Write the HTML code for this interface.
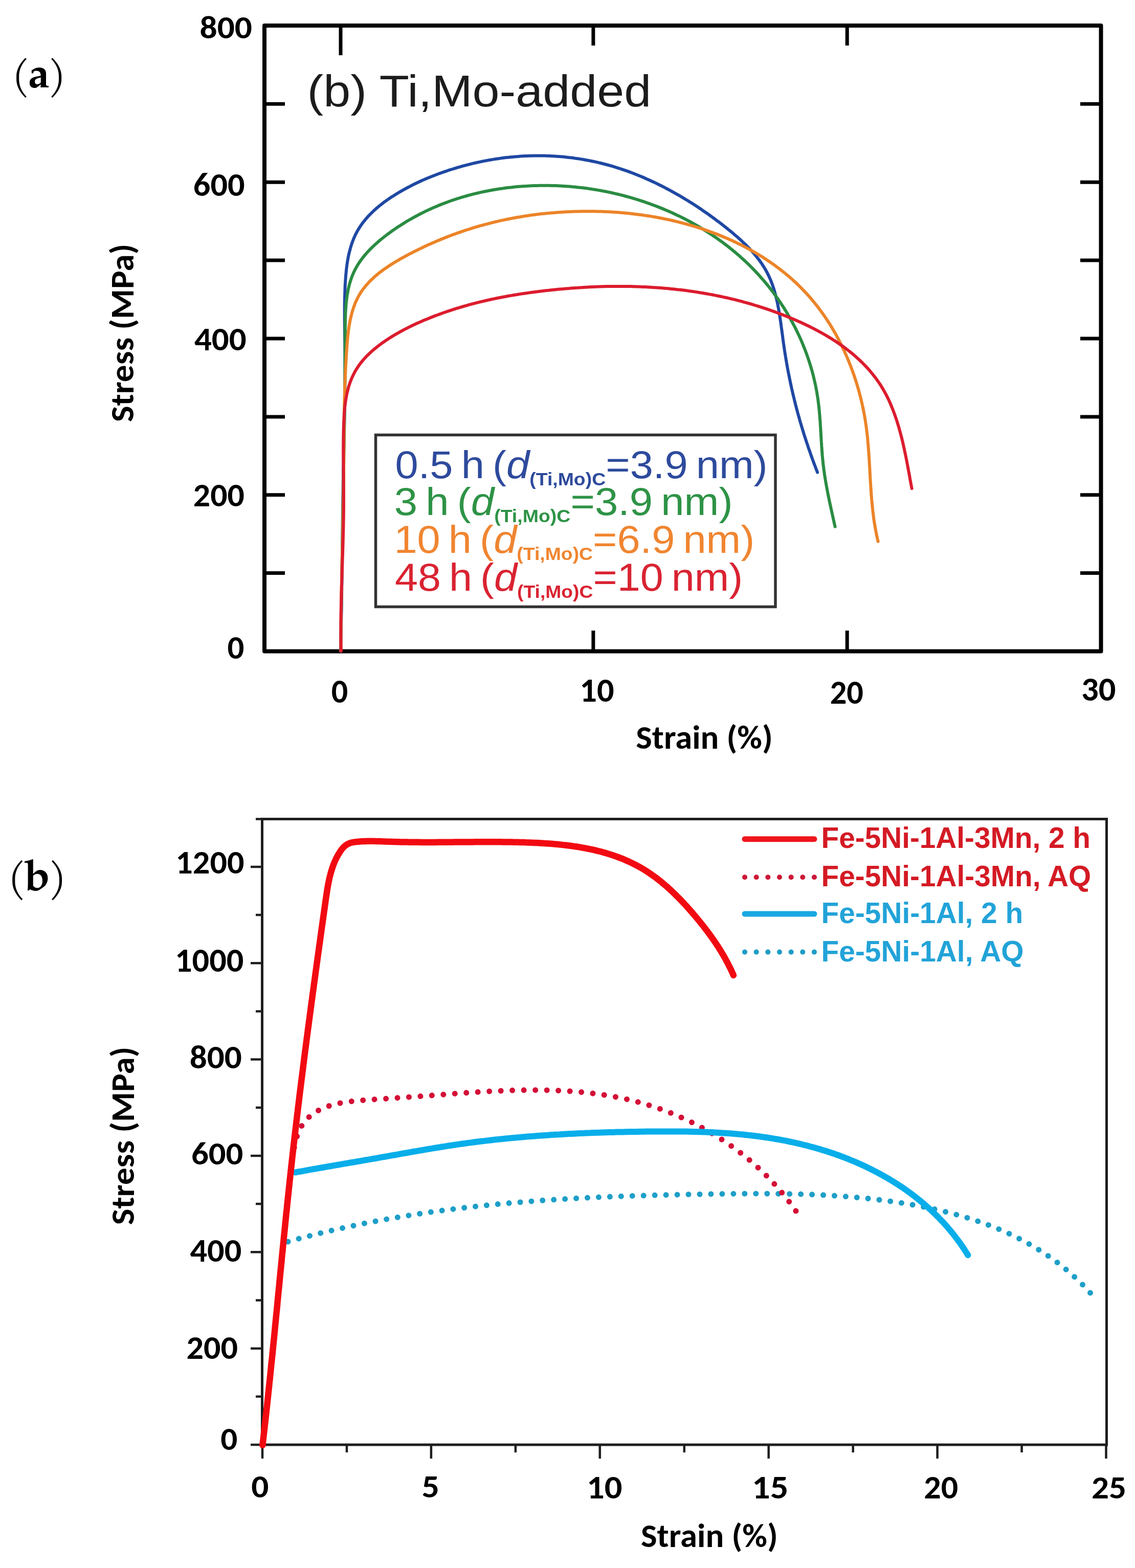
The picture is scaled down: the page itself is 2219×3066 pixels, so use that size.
<!DOCTYPE html>
<html><head><meta charset="utf-8"><title>Stress-strain curves</title>
<style>html,body{margin:0;padding:0;background:#fff;}svg{display:block;}</style></head>
<body><svg width="2219" height="3066" viewBox="0 0 2219 3066">
<rect x="0" y="0" width="2219" height="3066" fill="#fff"/>
<text x="22.3" y="171.9" font-family="'TeX Gyre Pagella', 'Palatino Linotype', Palatino, 'Liberation Serif', serif" font-weight="normal" font-style="normal" font-size="79.29" fill="#000" textLength="36.3" lengthAdjust="spacingAndGlyphs" style="font-size-adjust:cap-height 0.692">(</text>
<text x="54.5" y="170.7" font-family="'TeX Gyre Pagella', 'Palatino Linotype', Palatino, 'Liberation Serif', serif" font-weight="bold" font-style="normal" font-size="82.24" fill="#000" textLength="42.3" lengthAdjust="spacingAndGlyphs" style="font-size-adjust:0.469">a</text>
<text x="93.5" y="171.9" font-family="'TeX Gyre Pagella', 'Palatino Linotype', Palatino, 'Liberation Serif', serif" font-weight="normal" font-style="normal" font-size="79.29" fill="#000" textLength="36.7" lengthAdjust="spacingAndGlyphs" style="font-size-adjust:cap-height 0.692">)</text>
<text x="14.2" y="1740.8" font-family="'TeX Gyre Pagella', 'Palatino Linotype', Palatino, 'Liberation Serif', serif" font-weight="normal" font-style="normal" font-size="79.59" fill="#000" textLength="36.7" lengthAdjust="spacingAndGlyphs" style="font-size-adjust:cap-height 0.692">(</text>
<text x="47.3" y="1741.2" font-family="'TeX Gyre Pagella', 'Palatino Linotype', Palatino, 'Liberation Serif', serif" font-weight="bold" font-style="normal" font-size="84.86" fill="#000" textLength="50.8" lengthAdjust="spacingAndGlyphs" style="font-size-adjust:0.469">b</text>
<text x="94.5" y="1740.8" font-family="'TeX Gyre Pagella', 'Palatino Linotype', Palatino, 'Liberation Serif', serif" font-weight="normal" font-style="normal" font-size="79.59" fill="#000" textLength="36.5" lengthAdjust="spacingAndGlyphs" style="font-size-adjust:cap-height 0.692">)</text>
<rect x="517.0" y="50.0" width="1635.5" height="1223.5" fill="none" stroke="#000" stroke-width="8" stroke-linejoin="round"/>
<path d="M517.0,1120.6H557 M2152.5,1120.6H2112 M517.0,967.7H557 M2152.5,967.7H2112 M517.0,814.9H557 M2152.5,814.9H2112 M517.0,662.0H557 M2152.5,662.0H2112 M517.0,509.1H557 M2152.5,509.1H2112 M517.0,356.2H557 M2152.5,356.2H2112 M517.0,203.3H557 M2152.5,203.3H2112 M666,50.0V108 M1159.9,50.0V89 M1656.2,50.0V89 M1159.9,1273.5V1233 M1656.2,1273.5V1233" stroke="#000" stroke-width="7" fill="none"/>
<text x="390.5" y="75.1" font-family="Carlito, 'Liberation Sans', sans-serif" font-weight="bold" font-style="normal" font-size="62.86" fill="#000" textLength="102.4" lengthAdjust="spacingAndGlyphs" style="font-size-adjust:cap-height 0.6484">800</text>
<text x="377.8" y="383.4" font-family="Carlito, 'Liberation Sans', sans-serif" font-weight="bold" font-style="normal" font-size="64.35" fill="#000" textLength="100.8" lengthAdjust="spacingAndGlyphs" style="font-size-adjust:cap-height 0.6484">600</text>
<text x="379.9" y="684.9" font-family="Carlito, 'Liberation Sans', sans-serif" font-weight="bold" font-style="normal" font-size="65.07" fill="#000" textLength="101.9" lengthAdjust="spacingAndGlyphs" style="font-size-adjust:cap-height 0.6484">400</text>
<text x="377.8" y="990.2" font-family="Carlito, 'Liberation Sans', sans-serif" font-weight="bold" font-style="normal" font-size="65.07" fill="#000" textLength="100.0" lengthAdjust="spacingAndGlyphs" style="font-size-adjust:cap-height 0.6484">200</text>
<text x="444.5" y="1288.4" font-family="Carlito, 'Liberation Sans', sans-serif" font-weight="bold" font-style="normal" font-size="64.18" fill="#000" textLength="32.9" lengthAdjust="spacingAndGlyphs" style="font-size-adjust:cap-height 0.6484">0</text>
<text x="647.7" y="1374.4" font-family="Carlito, 'Liberation Sans', sans-serif" font-weight="bold" font-style="normal" font-size="65.97" fill="#000" textLength="32.5" lengthAdjust="spacingAndGlyphs" style="font-size-adjust:cap-height 0.6484">0</text>
<text x="1133.3" y="1371.9" font-family="Carlito, 'Liberation Sans', sans-serif" font-weight="bold" font-style="normal" font-size="67.54" fill="#000" textLength="67.4" lengthAdjust="spacingAndGlyphs" style="font-size-adjust:cap-height 0.6484">10</text>
<text x="1622.7" y="1376.0" font-family="Carlito, 'Liberation Sans', sans-serif" font-weight="bold" font-style="normal" font-size="67.12" fill="#000" textLength="65.3" lengthAdjust="spacingAndGlyphs" style="font-size-adjust:cap-height 0.6484">20</text>
<text x="2114.1" y="1370.2" font-family="Carlito, 'Liberation Sans', sans-serif" font-weight="bold" font-style="normal" font-size="65.82" fill="#000" textLength="67.5" lengthAdjust="spacingAndGlyphs" style="font-size-adjust:cap-height 0.6484">30</text>
<text x="1243.3" y="1464.0" font-family="Carlito, 'Liberation Sans', sans-serif" font-weight="bold" font-style="normal" font-size="64.62" fill="#000" textLength="267.5" lengthAdjust="spacingAndGlyphs" style="font-size-adjust:cap-height 0.6484">Strain (%)</text>
<text transform="translate(261.2 825.3) rotate(-90)" x="0" y="0" font-family="Carlito, 'Liberation Sans', sans-serif" font-weight="bold" font-size="64.62" fill="#000" textLength="348.8" lengthAdjust="spacingAndGlyphs" style="font-size-adjust:cap-height 0.6484">Stress (MPa)</text>
<text x="600.6" y="207.8" font-family="'Liberation Sans', Arial, Helvetica, sans-serif" font-weight="normal" font-style="normal" font-size="88.00" fill="#1c1c1c" textLength="672.7" lengthAdjust="spacingAndGlyphs">(b) Ti,Mo-added</text>
<path d="M665.7,1272.8 L665.8,1268.8 L665.9,1264.8 L666.0,1260.9 L666.1,1256.9 L666.2,1252.9 L666.3,1248.9 L666.4,1244.9 L666.5,1240.9 L666.6,1236.9 L666.7,1232.9 L666.8,1228.9 L666.9,1224.9 L667.0,1220.9 L667.1,1216.9 L667.2,1212.9 L667.2,1208.9 L667.3,1204.9 L667.4,1200.9 L667.5,1196.9 L667.6,1192.9 L667.6,1188.9 L667.7,1184.9 L667.8,1180.8 L667.8,1176.8 L667.9,1172.8 L668.0,1168.8 L668.0,1164.8 L668.1,1160.8 L668.1,1156.8 L668.2,1152.7 L668.2,1148.7 L668.3,1144.7 L668.4,1140.7 L668.4,1136.7 L668.5,1132.6 L668.5,1128.6 L668.6,1124.6 L668.6,1120.6 L668.7,1116.6 L668.7,1112.5 L668.8,1108.5 L668.8,1104.5 L668.8,1100.5 L668.9,1096.4 L668.9,1092.4 L669.0,1088.4 L669.0,1084.4 L669.1,1080.3 L669.1,1076.3 L669.2,1072.3 L669.2,1068.3 L669.2,1064.3 L669.3,1060.2 L669.3,1056.2 L669.4,1052.2 L669.4,1048.2 L669.5,1044.1 L669.5,1040.1 L669.6,1036.1 L669.6,1032.1 L669.7,1028.0 L669.7,1024.0 L669.7,1020.0 L669.8,1016.0 L669.8,1011.9 L669.9,1007.9 L669.9,1003.9 L670.0,999.9 L670.1,995.9 L670.1,991.9 L670.2,987.8 L670.2,983.8 L670.3,979.8 L670.3,975.8 L670.4,971.8 L670.5,967.8 L670.5,963.7 L670.6,959.7 L670.7,955.7 L670.7,951.7 L670.8,947.7 L670.9,943.7 L670.9,939.7 L671.0,935.7 L671.1,931.7 L671.2,927.7 L671.2,923.7 L671.3,919.7 L671.4,915.7 L671.5,911.7 L671.6,907.7 L671.7,903.7 L671.7,899.7 L671.8,895.7 L671.9,891.7 L672.0,887.7 L672.1,883.7 L672.2,879.7 L672.2,875.7 L672.3,871.7 L672.4,867.7 L672.5,863.7 L672.6,859.7 L672.7,855.7 L672.7,851.7 L672.8,847.7 L672.9,843.7 L673.0,839.7 L673.1,835.7 L673.2,831.7 L673.2,827.7 L673.3,823.7 L673.4,819.7 L673.5,815.7 L673.5,811.7 L673.6,807.7 L673.7,803.7 L673.7,799.7 L673.8,795.7 L673.9,791.7 L673.9,787.7 L674.0,783.7 L674.0,779.7 L674.1,775.7 L674.1,771.7 L674.2,767.7 L674.2,763.7 L674.3,759.7 L674.3,755.7 L674.3,751.7 L674.4,747.7 L674.4,743.6 L674.4,739.6 L674.4,735.6 L674.5,731.6 L674.5,727.6 L674.5,723.6 L674.5,719.6 L674.5,715.5 L674.5,711.5 L674.5,707.5 L674.5,703.5 L674.5,699.4 L674.5,695.4 L674.4,691.4 L674.4,687.4 L674.4,683.3 L674.3,679.3 L674.3,675.3 L674.2,671.2 L674.2,667.2 L674.1,663.1 L674.1,659.1 L674.0,655.0 L674.0,651.0 L673.9,647.0 L673.9,642.9 L673.8,638.9 L673.8,634.8 L673.8,630.7 L673.7,626.7 L673.7,622.6 L673.7,618.6 L673.7,614.5 L673.7,610.5 L673.7,606.4 L673.7,602.3 L673.7,598.3 L673.8,594.2 L673.8,590.1 L673.9,586.1 L674.0,582.0 L674.1,577.9 L674.2,573.8 L674.3,569.8 L674.5,565.7 L674.6,561.6 L674.8,557.5 L675.0,553.4 L675.3,549.4 L675.6,545.3 L675.9,541.2 L676.2,537.2 L676.6,533.1 L677.0,529.1 L677.4,525.1 L677.9,521.1 L678.4,517.1 L679.0,513.1 L679.7,509.2 L680.4,505.3 L681.1,501.4 L681.9,497.5 L682.8,493.7 L683.8,489.9 L684.8,486.2 L685.9,482.4 L687.0,478.7 L688.3,475.1 L689.6,471.5 L691.0,467.9 L692.4,464.4 L694.0,461.0 L695.6,457.5 L697.4,454.2 L699.2,450.9 L701.2,447.6 L703.2,444.4 L705.3,441.2 L707.5,438.1 L709.7,435.1 L712.1,432.1 L714.5,429.1 L717.0,426.2 L719.5,423.3 L722.2,420.5 L724.9,417.8 L727.7,415.0 L730.5,412.3 L733.4,409.7 L736.3,407.1 L739.3,404.6 L742.4,402.0 L745.5,399.6 L748.6,397.1 L751.8,394.7 L755.1,392.4 L758.4,390.1 L761.7,387.8 L765.0,385.6 L768.4,383.4 L771.9,381.2 L775.3,379.1 L778.8,377.0 L782.3,374.9 L785.8,372.9 L789.4,370.9 L793.0,368.9 L796.5,367.0 L800.2,365.1 L803.8,363.2 L807.4,361.3 L811.1,359.5 L814.8,357.8 L818.5,356.0 L822.2,354.3 L825.9,352.6 L829.7,351.0 L833.5,349.3 L837.2,347.8 L841.0,346.2 L844.8,344.7 L848.6,343.2 L852.5,341.7 L856.3,340.2 L860.1,338.8 L864.0,337.5 L867.9,336.1 L871.7,334.8 L875.6,333.5 L879.5,332.2 L883.4,331.0 L887.3,329.8 L891.2,328.6 L895.1,327.4 L899.0,326.3 L902.9,325.2 L906.8,324.1 L910.7,323.1 L914.7,322.1 L918.6,321.1 L922.5,320.1 L926.4,319.2 L930.4,318.3 L934.3,317.4 L938.3,316.6 L942.2,315.7 L946.1,314.9 L950.1,314.2 L954.0,313.4 L958.0,312.7 L961.9,312.1 L965.9,311.4 L969.9,310.8 L973.8,310.2 L977.8,309.6 L981.7,309.1 L985.7,308.6 L989.7,308.1 L993.6,307.7 L997.6,307.3 L1001.5,306.9 L1005.5,306.5 L1009.5,306.2 L1013.4,305.9 L1017.4,305.6 L1021.4,305.3 L1025.3,305.1 L1029.3,304.9 L1033.3,304.8 L1037.2,304.7 L1041.2,304.6 L1045.1,304.5 L1049.1,304.4 L1053.1,304.4 L1057.0,304.5 L1061.0,304.5 L1064.9,304.6 L1068.9,304.7 L1072.8,304.8 L1076.8,305.0 L1080.7,305.2 L1084.7,305.4 L1088.6,305.7 L1092.6,306.0 L1096.5,306.3 L1100.4,306.6 L1104.4,307.0 L1108.3,307.4 L1112.2,307.9 L1116.2,308.3 L1120.1,308.8 L1124.0,309.4 L1127.9,309.9 L1131.8,310.5 L1135.7,311.1 L1139.6,311.8 L1143.5,312.5 L1147.4,313.2 L1151.3,313.9 L1155.2,314.7 L1159.1,315.5 L1163.0,316.3 L1166.9,317.2 L1170.7,318.1 L1174.6,319.0 L1178.5,320.0 L1182.3,321.0 L1186.2,322.0 L1190.0,323.0 L1193.9,324.1 L1197.7,325.2 L1201.5,326.4 L1205.3,327.6 L1209.2,328.8 L1213.0,330.0 L1216.8,331.3 L1220.6,332.6 L1224.4,333.9 L1228.1,335.2 L1231.9,336.6 L1235.7,338.0 L1239.4,339.5 L1243.2,341.0 L1246.9,342.5 L1250.7,344.0 L1254.4,345.5 L1258.1,347.1 L1261.8,348.7 L1265.5,350.4 L1269.2,352.0 L1272.9,353.7 L1276.6,355.4 L1280.3,357.1 L1283.9,358.9 L1287.6,360.7 L1291.2,362.5 L1294.9,364.3 L1298.5,366.2 L1302.1,368.1 L1305.7,370.0 L1309.3,371.9 L1312.9,373.8 L1316.4,375.8 L1320.0,377.8 L1323.5,379.8 L1327.1,381.8 L1330.6,383.9 L1334.1,386.0 L1337.6,388.1 L1341.1,390.2 L1344.6,392.3 L1348.0,394.5 L1351.5,396.6 L1354.9,398.8 L1358.4,401.0 L1361.8,403.3 L1365.2,405.5 L1368.5,407.8 L1371.9,410.1 L1375.3,412.4 L1378.6,414.7 L1382.0,417.0 L1385.3,419.3 L1388.6,421.7 L1391.9,424.1 L1395.1,426.5 L1398.4,428.9 L1401.6,431.3 L1404.9,433.7 L1408.1,436.2 L1411.3,438.7 L1414.5,441.1 L1417.6,443.6 L1420.8,446.1 L1423.9,448.7 L1427.0,451.2 L1430.1,453.7 L1433.2,456.3 L1436.2,458.9 L1439.3,461.5 L1442.3,464.1 L1445.2,466.7 L1448.2,469.4 L1451.1,472.1 L1453.9,474.8 L1456.7,477.5 L1459.5,480.2 L1462.3,483.0 L1465.0,485.8 L1467.6,488.7 L1470.3,491.5 L1472.8,494.4 L1475.3,497.4 L1477.8,500.3 L1480.2,503.3 L1482.6,506.3 L1484.9,509.4 L1487.1,512.5 L1489.3,515.6 L1491.4,518.8 L1493.4,522.0 L1495.4,525.3 L1497.3,528.6 L1499.2,531.9 L1500.9,535.3 L1502.6,538.7 L1504.2,542.2 L1505.8,545.7 L1507.3,549.3 L1508.7,552.9 L1510.0,556.5 L1511.3,560.2 L1512.5,563.9 L1513.7,567.6 L1514.8,571.4 L1515.8,575.2 L1516.8,579.1 L1517.8,582.9 L1518.7,586.8 L1519.5,590.7 L1520.4,594.7 L1521.1,598.6 L1521.9,602.6 L1522.6,606.6 L1523.3,610.7 L1524.0,614.7 L1524.6,618.7 L1525.2,622.8 L1525.8,626.9 L1526.4,630.9 L1527.0,635.0 L1527.5,639.1 L1528.1,643.2 L1528.6,647.3 L1529.2,651.4 L1529.7,655.5 L1530.3,659.6 L1530.8,663.7 L1531.4,667.8 L1531.9,671.9 L1532.5,675.9 L1533.1,680.0 L1533.7,684.0 L1534.3,688.1 L1534.9,692.1 L1535.6,696.1 L1536.2,700.1 L1536.9,704.1 L1537.6,708.1 L1538.3,712.1 L1539.0,716.1 L1539.7,720.0 L1540.5,724.0 L1541.2,728.0 L1542.0,731.9 L1542.8,735.8 L1543.6,739.8 L1544.4,743.7 L1545.2,747.6 L1546.0,751.5 L1546.9,755.4 L1547.7,759.3 L1548.6,763.2 L1549.5,767.1 L1550.4,771.0 L1551.3,774.8 L1552.3,778.7 L1553.2,782.6 L1554.2,786.4 L1555.1,790.3 L1556.1,794.1 L1557.1,798.0 L1558.1,801.8 L1559.2,805.7 L1560.2,809.5 L1561.3,813.3 L1562.4,817.1 L1563.4,821.0 L1564.5,824.8 L1565.7,828.6 L1566.8,832.4 L1567.9,836.2 L1569.1,840.0 L1570.3,843.8 L1571.4,847.6 L1572.6,851.4 L1573.9,855.2 L1575.1,859.0 L1576.3,862.8 L1577.6,866.6 L1578.9,870.4 L1580.1,874.2 L1581.4,878.0 L1582.8,881.8 L1584.1,885.6 L1585.4,889.4 L1586.8,893.2 L1588.1,897.0 L1589.5,900.8 L1590.9,904.6 L1592.3,908.4 L1593.8,912.2 L1595.2,916.0 L1596.7,919.8 L1598.1,923.6" fill="none" stroke="#1f48a3" stroke-width="6" stroke-linejoin="round" stroke-linecap="round"/>
<path d="M666.1,1272.8 L666.1,1268.8 L666.2,1264.8 L666.2,1260.8 L666.3,1256.9 L666.4,1252.9 L666.4,1248.9 L666.5,1244.9 L666.5,1240.9 L666.6,1237.0 L666.6,1233.0 L666.7,1229.0 L666.8,1225.0 L666.8,1221.0 L666.9,1217.0 L666.9,1213.0 L667.0,1209.0 L667.1,1205.0 L667.1,1201.0 L667.2,1197.0 L667.2,1193.0 L667.3,1189.0 L667.4,1185.0 L667.4,1181.0 L667.5,1177.0 L667.5,1173.0 L667.6,1168.9 L667.7,1164.9 L667.7,1160.9 L667.8,1156.9 L667.9,1152.9 L667.9,1148.9 L668.0,1144.8 L668.1,1140.8 L668.1,1136.8 L668.2,1132.8 L668.3,1128.8 L668.3,1124.7 L668.4,1120.7 L668.4,1116.7 L668.5,1112.7 L668.6,1108.7 L668.6,1104.6 L668.7,1100.6 L668.8,1096.6 L668.8,1092.6 L668.9,1088.5 L669.0,1084.5 L669.1,1080.5 L669.1,1076.5 L669.2,1072.4 L669.3,1068.4 L669.3,1064.4 L669.4,1060.4 L669.5,1056.3 L669.5,1052.3 L669.6,1048.3 L669.7,1044.3 L669.7,1040.2 L669.8,1036.2 L669.9,1032.2 L669.9,1028.2 L670.0,1024.1 L670.1,1020.1 L670.2,1016.1 L670.2,1012.1 L670.3,1008.1 L670.4,1004.1 L670.4,1000.0 L670.5,996.0 L670.6,992.0 L670.6,988.0 L670.7,984.0 L670.8,980.0 L670.9,976.0 L670.9,972.0 L671.0,967.9 L671.1,963.9 L671.1,959.9 L671.2,955.9 L671.3,951.9 L671.3,947.9 L671.4,943.9 L671.5,939.9 L671.5,935.9 L671.6,932.0 L671.7,928.0 L671.8,924.0 L671.8,920.0 L671.9,916.0 L672.0,912.0 L672.0,908.0 L672.1,904.0 L672.2,900.0 L672.2,896.1 L672.3,892.1 L672.4,888.1 L672.4,884.1 L672.5,880.1 L672.6,876.1 L672.6,872.1 L672.7,868.2 L672.8,864.2 L672.8,860.2 L672.9,856.2 L672.9,852.2 L673.0,848.2 L673.1,844.3 L673.1,840.3 L673.2,836.3 L673.2,832.3 L673.3,828.3 L673.4,824.3 L673.4,820.3 L673.5,816.3 L673.5,812.3 L673.6,808.3 L673.6,804.4 L673.7,800.4 L673.7,796.4 L673.8,792.4 L673.8,788.4 L673.9,784.4 L673.9,780.3 L674.0,776.3 L674.0,772.3 L674.1,768.3 L674.1,764.3 L674.2,760.3 L674.2,756.3 L674.2,752.2 L674.3,748.2 L674.3,744.2 L674.4,740.2 L674.4,736.1 L674.4,732.1 L674.5,728.1 L674.5,724.0 L674.5,720.0 L674.5,715.9 L674.6,711.9 L674.6,707.8 L674.6,703.8 L674.6,699.7 L674.7,695.7 L674.7,691.6 L674.7,687.5 L674.7,683.4 L674.7,679.4 L674.8,675.3 L674.8,671.2 L674.8,667.1 L674.8,663.0 L674.8,658.9 L674.8,654.8 L674.8,650.7 L674.8,646.6 L674.8,642.5 L674.9,638.4 L674.9,634.3 L675.0,630.2 L675.0,626.1 L675.1,622.0 L675.3,617.9 L675.4,613.8 L675.6,609.8 L675.8,605.7 L676.1,601.7 L676.4,597.7 L676.7,593.7 L677.1,589.7 L677.6,585.8 L678.1,581.8 L678.7,577.9 L679.3,574.1 L680.0,570.2 L680.7,566.4 L681.6,562.6 L682.5,558.8 L683.4,555.1 L684.5,551.4 L685.7,547.8 L686.9,544.1 L688.2,540.6 L689.6,537.0 L691.1,533.5 L692.8,530.1 L694.5,526.7 L696.3,523.3 L698.2,520.0 L700.2,516.7 L702.3,513.5 L704.5,510.3 L706.8,507.2 L709.1,504.1 L711.6,501.0 L714.1,498.0 L716.6,495.1 L719.3,492.1 L722.0,489.2 L724.8,486.4 L727.6,483.6 L730.5,480.8 L733.4,478.1 L736.4,475.4 L739.4,472.7 L742.5,470.1 L745.6,467.5 L748.8,465.0 L752.0,462.5 L755.2,460.0 L758.4,457.5 L761.7,455.1 L765.0,452.8 L768.3,450.4 L771.6,448.1 L775.0,445.8 L778.3,443.6 L781.7,441.4 L785.1,439.2 L788.5,437.1 L791.9,434.9 L795.3,432.9 L798.8,430.8 L802.3,428.8 L805.8,426.8 L809.3,424.9 L812.8,423.0 L816.3,421.1 L819.8,419.2 L823.4,417.4 L827.0,415.6 L830.5,413.9 L834.1,412.1 L837.7,410.4 L841.4,408.8 L845.0,407.1 L848.7,405.5 L852.3,404.0 L856.0,402.4 L859.7,400.9 L863.4,399.4 L867.1,398.0 L870.8,396.6 L874.5,395.2 L878.3,393.8 L882.0,392.5 L885.8,391.2 L889.5,390.0 L893.3,388.7 L897.1,387.5 L900.9,386.3 L904.7,385.2 L908.6,384.1 L912.4,383.0 L916.2,381.9 L920.1,380.9 L923.9,379.9 L927.8,378.9 L931.7,378.0 L935.5,377.1 L939.4,376.2 L943.3,375.3 L947.2,374.5 L951.1,373.7 L955.1,373.0 L959.0,372.2 L962.9,371.5 L966.9,370.8 L970.8,370.2 L974.7,369.5 L978.7,368.9 L982.7,368.4 L986.6,367.8 L990.6,367.3 L994.6,366.8 L998.6,366.4 L1002.5,365.9 L1006.5,365.5 L1010.5,365.1 L1014.5,364.8 L1018.5,364.5 L1022.5,364.2 L1026.5,363.9 L1030.6,363.7 L1034.6,363.4 L1038.6,363.3 L1042.6,363.1 L1046.6,363.0 L1050.6,362.9 L1054.7,362.8 L1058.7,362.7 L1062.7,362.7 L1066.8,362.7 L1070.8,362.7 L1074.8,362.8 L1078.8,362.9 L1082.9,363.0 L1086.9,363.1 L1090.9,363.3 L1095.0,363.5 L1099.0,363.7 L1103.0,363.9 L1107.1,364.2 L1111.1,364.5 L1115.1,364.8 L1119.1,365.2 L1123.2,365.5 L1127.2,365.9 L1131.2,366.4 L1135.2,366.8 L1139.2,367.3 L1143.2,367.8 L1147.2,368.3 L1151.2,368.9 L1155.2,369.5 L1159.2,370.1 L1163.2,370.7 L1167.2,371.4 L1171.2,372.1 L1175.2,372.8 L1179.1,373.6 L1183.1,374.3 L1187.1,375.1 L1191.0,375.9 L1195.0,376.8 L1198.9,377.7 L1202.9,378.6 L1206.8,379.5 L1210.7,380.4 L1214.6,381.4 L1218.5,382.4 L1222.4,383.5 L1226.3,384.5 L1230.2,385.6 L1234.1,386.7 L1238.0,387.8 L1241.8,389.0 L1245.7,390.2 L1249.5,391.4 L1253.4,392.6 L1257.2,393.9 L1261.0,395.2 L1264.8,396.5 L1268.6,397.8 L1272.4,399.2 L1276.2,400.6 L1280.0,402.0 L1283.7,403.4 L1287.5,404.9 L1291.2,406.4 L1294.9,407.9 L1298.6,409.4 L1302.3,411.0 L1306.0,412.6 L1309.7,414.2 L1313.3,415.8 L1317.0,417.5 L1320.6,419.2 L1324.3,420.9 L1327.9,422.6 L1331.5,424.4 L1335.0,426.2 L1338.6,428.0 L1342.2,429.9 L1345.7,431.7 L1349.2,433.6 L1352.7,435.5 L1356.2,437.5 L1359.7,439.4 L1363.2,441.4 L1366.6,443.4 L1370.0,445.5 L1373.4,447.5 L1376.8,449.6 L1380.2,451.7 L1383.6,453.9 L1386.9,456.0 L1390.3,458.2 L1393.6,460.4 L1396.9,462.7 L1400.1,464.9 L1403.4,467.2 L1406.6,469.5 L1409.9,471.8 L1413.1,474.2 L1416.2,476.6 L1419.4,479.0 L1422.6,481.4 L1425.7,483.9 L1428.8,486.3 L1431.9,488.8 L1434.9,491.4 L1438.0,493.9 L1441.0,496.5 L1444.0,499.1 L1447.0,501.7 L1449.9,504.4 L1452.9,507.0 L1455.8,509.7 L1458.7,512.4 L1461.6,515.2 L1464.4,517.9 L1467.2,520.7 L1470.0,523.5 L1472.8,526.4 L1475.6,529.2 L1478.3,532.1 L1481.0,535.0 L1483.7,538.0 L1486.3,540.9 L1489.0,543.9 L1491.6,546.9 L1494.2,549.9 L1496.7,553.0 L1499.3,556.0 L1501.8,559.1 L1504.3,562.2 L1506.7,565.4 L1509.1,568.5 L1511.6,571.7 L1513.9,574.9 L1516.3,578.1 L1518.6,581.4 L1520.9,584.6 L1523.2,587.9 L1525.4,591.2 L1527.6,594.5 L1529.8,597.9 L1532.0,601.2 L1534.1,604.6 L1536.2,608.0 L1538.3,611.4 L1540.3,614.8 L1542.4,618.3 L1544.4,621.7 L1546.3,625.2 L1548.2,628.7 L1550.1,632.2 L1552.0,635.8 L1553.9,639.3 L1555.7,642.9 L1557.4,646.5 L1559.2,650.1 L1560.9,653.7 L1562.6,657.3 L1564.2,660.9 L1565.9,664.6 L1567.5,668.2 L1569.0,671.9 L1570.5,675.6 L1572.0,679.3 L1573.5,683.1 L1574.9,686.8 L1576.3,690.5 L1577.7,694.3 L1579.0,698.1 L1580.3,701.9 L1581.6,705.7 L1582.8,709.5 L1584.0,713.3 L1585.2,717.1 L1586.3,720.9 L1587.4,724.8 L1588.5,728.7 L1589.5,732.5 L1590.5,736.4 L1591.4,740.3 L1592.3,744.2 L1593.2,748.1 L1594.1,752.0 L1594.9,755.9 L1595.6,759.9 L1596.4,763.8 L1597.1,767.8 L1597.7,771.7 L1598.4,775.7 L1599.0,779.6 L1599.5,783.6 L1600.0,787.6 L1600.5,791.6 L1601.0,795.6 L1601.4,799.6 L1601.8,803.6 L1602.1,807.6 L1602.5,811.6 L1602.8,815.6 L1603.1,819.6 L1603.4,823.6 L1603.7,827.7 L1603.9,831.7 L1604.2,835.7 L1604.4,839.7 L1604.6,843.8 L1604.9,847.8 L1605.1,851.8 L1605.3,855.8 L1605.6,859.9 L1605.8,863.9 L1606.1,867.9 L1606.3,871.9 L1606.6,875.9 L1606.9,880.0 L1607.2,884.0 L1607.5,888.0 L1607.8,892.0 L1608.2,896.0 L1608.6,900.0 L1609.0,904.0 L1609.4,908.0 L1609.9,911.9 L1610.4,915.9 L1610.9,919.9 L1611.5,923.8 L1612.0,927.8 L1612.6,931.7 L1613.3,935.7 L1613.9,939.6 L1614.6,943.6 L1615.3,947.5 L1616.0,951.4 L1616.7,955.4 L1617.5,959.3 L1618.2,963.2 L1619.0,967.2 L1619.8,971.1 L1620.6,975.0 L1621.4,978.9 L1622.2,982.8 L1623.1,986.7 L1623.9,990.7 L1624.8,994.6 L1625.6,998.5 L1626.5,1002.4 L1627.4,1006.3 L1628.2,1010.2 L1629.1,1014.2 L1630.0,1018.1 L1630.8,1022.0 L1631.7,1025.9 L1632.6,1029.8" fill="none" stroke="#2a8c42" stroke-width="6" stroke-linejoin="round" stroke-linecap="round"/>
<path d="M666.4,1273.0 L666.4,1269.0 L666.4,1264.9 L666.4,1260.9 L666.4,1256.9 L666.4,1252.9 L666.4,1248.9 L666.5,1244.9 L666.5,1240.9 L666.5,1236.9 L666.5,1232.9 L666.5,1228.9 L666.6,1224.9 L666.6,1220.9 L666.7,1216.9 L666.7,1212.9 L666.7,1208.9 L666.8,1204.8 L666.8,1200.8 L666.9,1196.8 L666.9,1192.8 L667.0,1188.8 L667.1,1184.8 L667.1,1180.8 L667.2,1176.8 L667.3,1172.8 L667.3,1168.7 L667.4,1164.7 L667.5,1160.7 L667.5,1156.7 L667.6,1152.7 L667.7,1148.7 L667.8,1144.7 L667.9,1140.7 L668.0,1136.6 L668.0,1132.6 L668.1,1128.6 L668.2,1124.6 L668.3,1120.6 L668.4,1116.6 L668.5,1112.6 L668.6,1108.5 L668.7,1104.5 L668.7,1100.5 L668.8,1096.5 L668.9,1092.5 L669.0,1088.5 L669.1,1084.5 L669.2,1080.4 L669.3,1076.4 L669.4,1072.4 L669.5,1068.4 L669.6,1064.4 L669.7,1060.4 L669.8,1056.4 L669.9,1052.3 L669.9,1048.3 L670.0,1044.3 L670.1,1040.3 L670.2,1036.3 L670.3,1032.3 L670.4,1028.3 L670.5,1024.2 L670.5,1020.2 L670.6,1016.2 L670.7,1012.2 L670.8,1008.2 L670.9,1004.2 L670.9,1000.2 L671.0,996.2 L671.1,992.2 L671.1,988.1 L671.2,984.1 L671.3,980.1 L671.3,976.1 L671.4,972.1 L671.4,968.1 L671.5,964.1 L671.5,960.1 L671.6,956.1 L671.6,952.1 L671.7,948.1 L671.7,944.1 L671.8,940.1 L671.8,936.1 L671.8,932.0 L671.9,928.0 L671.9,924.0 L671.9,920.0 L671.9,916.0 L672.0,912.0 L672.0,908.0 L672.0,904.0 L672.1,900.0 L672.1,896.0 L672.1,892.0 L672.1,888.0 L672.2,884.0 L672.2,880.0 L672.2,876.0 L672.2,872.0 L672.3,868.0 L672.3,864.0 L672.3,860.0 L672.4,856.0 L672.4,851.9 L672.4,847.9 L672.5,843.9 L672.5,839.9 L672.6,835.9 L672.6,831.9 L672.7,827.9 L672.7,823.9 L672.8,819.9 L672.8,815.9 L672.9,811.9 L673.0,807.8 L673.0,803.8 L673.1,799.8 L673.2,795.8 L673.3,791.8 L673.4,787.8 L673.4,783.7 L673.5,779.7 L673.6,775.7 L673.8,771.7 L673.9,767.7 L674.0,763.6 L674.1,759.6 L674.2,755.6 L674.4,751.6 L674.5,747.5 L674.7,743.5 L674.8,739.5 L675.0,735.4 L675.2,731.4 L675.3,727.4 L675.5,723.3 L675.7,719.3 L675.9,715.3 L676.1,711.2 L676.4,707.2 L676.6,703.1 L676.8,699.1 L677.1,695.1 L677.3,691.0 L677.6,687.0 L677.8,682.9 L678.1,678.9 L678.4,674.8 L678.7,670.8 L679.1,666.7 L679.4,662.7 L679.8,658.7 L680.3,654.7 L680.7,650.7 L681.2,646.7 L681.8,642.7 L682.3,638.8 L683.0,634.9 L683.7,631.0 L684.4,627.1 L685.2,623.3 L686.1,619.5 L687.0,615.7 L688.0,611.9 L689.0,608.2 L690.2,604.6 L691.4,600.9 L692.7,597.4 L694.0,593.8 L695.5,590.3 L697.1,586.9 L698.7,583.5 L700.5,580.1 L702.3,576.9 L704.3,573.6 L706.3,570.4 L708.5,567.3 L710.7,564.3 L713.1,561.3 L715.5,558.3 L718.1,555.4 L720.7,552.5 L723.4,549.7 L726.2,547.0 L729.0,544.3 L731.9,541.6 L734.9,539.0 L738.0,536.4 L741.1,533.9 L744.3,531.4 L747.5,529.0 L750.8,526.6 L754.2,524.2 L757.6,521.9 L761.0,519.6 L764.5,517.4 L768.0,515.2 L771.5,513.0 L775.1,510.9 L778.7,508.8 L782.3,506.7 L785.9,504.6 L789.6,502.6 L793.3,500.6 L796.9,498.6 L800.6,496.7 L804.3,494.8 L808.0,492.9 L811.7,491.0 L815.4,489.2 L819.1,487.4 L822.8,485.6 L826.5,483.8 L830.2,482.0 L833.9,480.3 L837.6,478.6 L841.4,476.9 L845.1,475.3 L848.8,473.7 L852.5,472.0 L856.3,470.5 L860.0,468.9 L863.7,467.4 L867.5,465.9 L871.2,464.4 L875.0,462.9 L878.7,461.5 L882.5,460.0 L886.2,458.6 L890.0,457.3 L893.8,455.9 L897.5,454.6 L901.3,453.3 L905.1,452.0 L908.9,450.7 L912.7,449.5 L916.4,448.3 L920.2,447.1 L924.0,445.9 L927.8,444.7 L931.6,443.6 L935.4,442.5 L939.2,441.4 L943.1,440.4 L946.9,439.3 L950.7,438.3 L954.5,437.3 L958.3,436.3 L962.2,435.4 L966.0,434.4 L969.9,433.5 L973.7,432.6 L977.6,431.7 L981.4,430.9 L985.3,430.1 L989.1,429.3 L993.0,428.5 L996.9,427.7 L1000.7,426.9 L1004.6,426.2 L1008.5,425.5 L1012.4,424.8 L1016.3,424.2 L1020.2,423.5 L1024.1,422.9 L1028.0,422.3 L1031.9,421.7 L1035.8,421.1 L1039.7,420.6 L1043.7,420.1 L1047.6,419.6 L1051.5,419.1 L1055.5,418.6 L1059.4,418.1 L1063.3,417.7 L1067.3,417.3 L1071.3,416.9 L1075.2,416.5 L1079.2,416.2 L1083.2,415.9 L1087.1,415.5 L1091.1,415.3 L1095.1,415.0 L1099.1,414.7 L1103.1,414.5 L1107.1,414.3 L1111.1,414.1 L1115.1,413.9 L1119.1,413.7 L1123.1,413.6 L1127.1,413.5 L1131.1,413.4 L1135.2,413.3 L1139.2,413.2 L1143.2,413.2 L1147.2,413.2 L1151.3,413.2 L1155.3,413.2 L1159.3,413.2 L1163.4,413.3 L1167.4,413.4 L1171.4,413.5 L1175.5,413.6 L1179.5,413.7 L1183.5,413.9 L1187.6,414.1 L1191.6,414.3 L1195.7,414.5 L1199.7,414.7 L1203.7,415.0 L1207.8,415.3 L1211.8,415.6 L1215.8,415.9 L1219.9,416.3 L1223.9,416.7 L1227.9,417.1 L1231.9,417.5 L1236.0,417.9 L1240.0,418.4 L1244.0,418.9 L1248.0,419.4 L1252.0,419.9 L1256.0,420.5 L1260.0,421.1 L1264.0,421.7 L1268.0,422.3 L1272.0,422.9 L1276.0,423.6 L1280.0,424.3 L1284.0,425.0 L1288.0,425.7 L1291.9,426.5 L1295.9,427.3 L1299.9,428.1 L1303.8,428.9 L1307.8,429.7 L1311.7,430.6 L1315.6,431.5 L1319.6,432.4 L1323.5,433.4 L1327.4,434.3 L1331.3,435.3 L1335.2,436.4 L1339.1,437.4 L1343.0,438.5 L1346.9,439.6 L1350.8,440.7 L1354.6,441.8 L1358.5,443.0 L1362.3,444.2 L1366.2,445.4 L1370.0,446.6 L1373.8,447.9 L1377.6,449.2 L1381.4,450.5 L1385.2,451.8 L1389.0,453.2 L1392.8,454.6 L1396.5,456.0 L1400.3,457.4 L1404.0,458.9 L1407.7,460.4 L1411.4,461.9 L1415.1,463.4 L1418.8,465.0 L1422.5,466.6 L1426.1,468.2 L1429.8,469.8 L1433.4,471.5 L1437.0,473.2 L1440.6,474.9 L1444.2,476.7 L1447.8,478.4 L1451.4,480.2 L1454.9,482.1 L1458.4,483.9 L1461.9,485.8 L1465.4,487.7 L1468.9,489.6 L1472.3,491.6 L1475.8,493.6 L1479.2,495.6 L1482.6,497.6 L1486.0,499.7 L1489.4,501.8 L1492.7,503.9 L1496.0,506.1 L1499.3,508.2 L1502.6,510.4 L1505.9,512.7 L1509.1,514.9 L1512.4,517.2 L1515.6,519.5 L1518.7,521.9 L1521.9,524.2 L1525.0,526.6 L1528.2,529.1 L1531.2,531.5 L1534.3,534.0 L1537.4,536.5 L1540.4,539.0 L1543.4,541.6 L1546.4,544.2 L1549.3,546.8 L1552.2,549.5 L1555.1,552.1 L1558.0,554.8 L1560.9,557.6 L1563.7,560.3 L1566.5,563.1 L1569.2,566.0 L1572.0,568.8 L1574.7,571.7 L1577.4,574.6 L1580.0,577.5 L1582.7,580.5 L1585.3,583.5 L1587.8,586.5 L1590.4,589.6 L1592.9,592.7 L1595.4,595.8 L1597.9,598.9 L1600.3,602.1 L1602.7,605.3 L1605.1,608.5 L1607.4,611.7 L1609.7,615.0 L1612.0,618.3 L1614.3,621.6 L1616.5,624.9 L1618.7,628.3 L1620.9,631.7 L1623.0,635.1 L1625.1,638.5 L1627.2,641.9 L1629.2,645.4 L1631.3,648.9 L1633.3,652.4 L1635.2,655.9 L1637.2,659.5 L1639.1,663.1 L1640.9,666.6 L1642.8,670.3 L1644.6,673.9 L1646.4,677.5 L1648.1,681.2 L1649.9,684.8 L1651.6,688.5 L1653.2,692.2 L1654.9,695.9 L1656.5,699.7 L1658.1,703.4 L1659.6,707.2 L1661.1,710.9 L1662.6,714.7 L1664.1,718.5 L1665.5,722.3 L1666.9,726.1 L1668.3,730.0 L1669.6,733.8 L1670.9,737.7 L1672.2,741.5 L1673.4,745.4 L1674.7,749.3 L1675.8,753.1 L1677.0,757.0 L1678.1,760.9 L1679.2,764.8 L1680.3,768.7 L1681.3,772.7 L1682.3,776.6 L1683.3,780.5 L1684.2,784.4 L1685.2,788.4 L1686.0,792.3 L1686.9,796.2 L1687.7,800.2 L1688.5,804.1 L1689.2,808.1 L1690.0,812.0 L1690.7,816.0 L1691.3,819.9 L1692.0,823.9 L1692.6,827.8 L1693.1,831.8 L1693.7,835.7 L1694.2,839.7 L1694.7,843.6 L1695.1,847.6 L1695.6,851.5 L1696.0,855.4 L1696.4,859.4 L1696.7,863.3 L1697.1,867.3 L1697.4,871.2 L1697.7,875.2 L1698.0,879.1 L1698.3,883.0 L1698.6,887.0 L1698.9,890.9 L1699.1,894.9 L1699.4,898.8 L1699.6,902.8 L1699.8,906.7 L1700.0,910.7 L1700.3,914.6 L1700.5,918.6 L1700.7,922.5 L1700.9,926.5 L1701.1,930.5 L1701.3,934.4 L1701.6,938.4 L1701.8,942.4 L1702.0,946.3 L1702.3,950.3 L1702.5,954.3 L1702.8,958.2 L1703.1,962.2 L1703.4,966.2 L1703.7,970.2 L1704.0,974.2 L1704.3,978.1 L1704.7,982.1 L1705.1,986.1 L1705.5,990.1 L1705.9,994.1 L1706.3,998.1 L1706.8,1002.1 L1707.3,1006.2 L1707.8,1010.2 L1708.3,1014.2 L1708.9,1018.2 L1709.5,1022.3 L1710.2,1026.3 L1710.9,1030.3 L1711.6,1034.4 L1712.3,1038.4 L1713.1,1042.5 L1713.9,1046.5 L1714.8,1050.6 L1715.7,1054.7 L1716.7,1058.7" fill="none" stroke="#ec8428" stroke-width="6" stroke-linejoin="round" stroke-linecap="round"/>
<path d="M666.8,1273.3 L666.7,1269.2 L666.6,1265.2 L666.5,1261.1 L666.5,1257.1 L666.4,1253.0 L666.4,1248.9 L666.4,1244.9 L666.4,1240.9 L666.4,1236.8 L666.4,1232.8 L666.4,1228.7 L666.4,1224.7 L666.4,1220.7 L666.4,1216.7 L666.5,1212.6 L666.5,1208.6 L666.6,1204.6 L666.6,1200.6 L666.7,1196.5 L666.8,1192.5 L666.8,1188.5 L666.9,1184.5 L667.0,1180.5 L667.1,1176.5 L667.2,1172.5 L667.3,1168.5 L667.4,1164.5 L667.5,1160.5 L667.6,1156.5 L667.7,1152.5 L667.8,1148.5 L667.9,1144.5 L668.1,1140.5 L668.2,1136.5 L668.3,1132.5 L668.4,1128.5 L668.6,1124.5 L668.7,1120.5 L668.8,1116.5 L669.0,1112.5 L669.1,1108.6 L669.2,1104.6 L669.4,1100.6 L669.5,1096.6 L669.6,1092.6 L669.7,1088.6 L669.9,1084.6 L670.0,1080.6 L670.1,1076.6 L670.2,1072.6 L670.4,1068.7 L670.5,1064.7 L670.6,1060.7 L670.7,1056.7 L670.8,1052.7 L670.9,1048.7 L671.0,1044.7 L671.1,1040.7 L671.2,1036.7 L671.3,1032.7 L671.4,1028.7 L671.5,1024.7 L671.5,1020.7 L671.6,1016.7 L671.7,1012.7 L671.7,1008.7 L671.8,1004.7 L671.8,1000.7 L671.9,996.7 L671.9,992.7 L671.9,988.7 L671.9,984.6 L671.9,980.6 L671.9,976.6 L671.9,972.6 L671.9,968.6 L671.9,964.5 L671.9,960.5 L671.8,956.5 L671.8,952.4 L671.8,948.4 L671.7,944.4 L671.7,940.3 L671.6,936.3 L671.6,932.2 L671.6,928.2 L671.5,924.1 L671.5,920.1 L671.4,916.1 L671.4,912.0 L671.4,907.9 L671.3,903.9 L671.3,899.8 L671.3,895.8 L671.2,891.7 L671.2,887.6 L671.2,883.6 L671.2,879.5 L671.2,875.4 L671.2,871.4 L671.3,867.3 L671.3,863.2 L671.3,859.2 L671.4,855.1 L671.4,851.0 L671.5,846.9 L671.6,842.8 L671.7,838.7 L671.8,834.7 L671.9,830.6 L672.1,826.5 L672.3,822.4 L672.5,818.3 L672.7,814.3 L672.9,810.2 L673.2,806.2 L673.6,802.1 L673.9,798.1 L674.4,794.1 L674.8,790.2 L675.4,786.2 L675.9,782.3 L676.6,778.4 L677.3,774.5 L678.0,770.7 L678.9,766.9 L679.8,763.1 L680.8,759.4 L681.8,755.7 L683.0,752.1 L684.2,748.5 L685.5,744.9 L686.9,741.4 L688.4,737.9 L690.0,734.5 L691.7,731.1 L693.4,727.8 L695.3,724.5 L697.2,721.3 L699.3,718.1 L701.4,715.0 L703.6,712.0 L705.9,708.9 L708.3,706.0 L710.7,703.1 L713.3,700.2 L715.9,697.4 L718.6,694.7 L721.4,692.0 L724.2,689.3 L727.1,686.7 L730.1,684.1 L733.1,681.6 L736.2,679.1 L739.3,676.6 L742.5,674.2 L745.7,671.8 L748.9,669.5 L752.3,667.2 L755.6,664.9 L759.0,662.7 L762.4,660.5 L765.8,658.4 L769.3,656.2 L772.8,654.1 L776.4,652.1 L779.9,650.1 L783.5,648.1 L787.2,646.1 L790.8,644.2 L794.5,642.3 L798.2,640.4 L801.9,638.6 L805.6,636.8 L809.3,635.0 L813.1,633.3 L816.8,631.6 L820.6,629.9 L824.4,628.3 L828.2,626.6 L832.0,625.0 L835.8,623.5 L839.6,621.9 L843.4,620.4 L847.3,618.9 L851.1,617.4 L854.9,616.0 L858.7,614.6 L862.5,613.2 L866.4,611.8 L870.2,610.5 L874.0,609.2 L877.9,607.9 L881.7,606.6 L885.5,605.4 L889.4,604.1 L893.2,602.9 L897.0,601.8 L900.9,600.6 L904.7,599.5 L908.6,598.4 L912.4,597.3 L916.3,596.2 L920.1,595.1 L924.0,594.1 L927.9,593.1 L931.7,592.1 L935.6,591.2 L939.5,590.2 L943.3,589.3 L947.2,588.4 L951.1,587.5 L955.0,586.6 L958.8,585.8 L962.7,584.9 L966.6,584.1 L970.5,583.3 L974.4,582.5 L978.3,581.7 L982.2,581.0 L986.1,580.3 L990.0,579.5 L993.9,578.8 L997.8,578.1 L1001.7,577.5 L1005.6,576.8 L1009.5,576.2 L1013.4,575.5 L1017.4,574.9 L1021.3,574.3 L1025.2,573.7 L1029.1,573.2 L1033.1,572.6 L1037.0,572.1 L1041.0,571.5 L1044.9,571.0 L1048.9,570.5 L1052.8,570.0 L1056.8,569.5 L1060.7,569.0 L1064.7,568.6 L1068.6,568.1 L1072.6,567.7 L1076.6,567.2 L1080.5,566.8 L1084.5,566.4 L1088.5,566.0 L1092.5,565.6 L1096.4,565.2 L1100.4,564.9 L1104.4,564.5 L1108.4,564.2 L1112.4,563.9 L1116.4,563.5 L1120.4,563.2 L1124.4,562.9 L1128.4,562.7 L1132.4,562.4 L1136.4,562.2 L1140.4,561.9 L1144.4,561.7 L1148.4,561.5 L1152.4,561.3 L1156.4,561.1 L1160.4,560.9 L1164.4,560.7 L1168.4,560.6 L1172.5,560.5 L1176.5,560.3 L1180.5,560.2 L1184.5,560.1 L1188.5,560.1 L1192.5,560.0 L1196.6,559.9 L1200.6,559.9 L1204.6,559.9 L1208.6,559.9 L1212.6,559.9 L1216.6,559.9 L1220.7,559.9 L1224.7,560.0 L1228.7,560.0 L1232.7,560.1 L1236.7,560.2 L1240.8,560.3 L1244.8,560.4 L1248.8,560.6 L1252.8,560.7 L1256.8,560.9 L1260.8,561.1 L1264.9,561.3 L1268.9,561.5 L1272.9,561.7 L1276.9,562.0 L1280.9,562.2 L1284.9,562.5 L1288.9,562.8 L1292.9,563.1 L1296.9,563.4 L1300.9,563.8 L1304.9,564.1 L1308.9,564.5 L1312.9,564.9 L1316.9,565.3 L1320.9,565.7 L1324.9,566.2 L1328.9,566.6 L1332.9,567.1 L1336.9,567.6 L1340.8,568.1 L1344.8,568.6 L1348.8,569.2 L1352.8,569.7 L1356.7,570.3 L1360.7,570.9 L1364.7,571.5 L1368.6,572.2 L1372.6,572.8 L1376.6,573.5 L1380.5,574.2 L1384.5,574.9 L1388.4,575.6 L1392.3,576.3 L1396.3,577.1 L1400.2,577.9 L1404.2,578.7 L1408.1,579.5 L1412.0,580.3 L1415.9,581.2 L1419.8,582.0 L1423.8,582.9 L1427.7,583.8 L1431.6,584.8 L1435.5,585.7 L1439.4,586.7 L1443.3,587.7 L1447.1,588.7 L1451.0,589.7 L1454.9,590.8 L1458.8,591.8 L1462.6,592.9 L1466.5,594.0 L1470.4,595.1 L1474.2,596.3 L1478.1,597.5 L1481.9,598.6 L1485.7,599.9 L1489.6,601.1 L1493.4,602.3 L1497.2,603.6 L1501.0,604.9 L1504.8,606.2 L1508.6,607.5 L1512.4,608.9 L1516.2,610.3 L1520.0,611.7 L1523.8,613.1 L1527.5,614.5 L1531.3,616.0 L1535.1,617.5 L1538.8,619.0 L1542.6,620.5 L1546.3,622.0 L1550.0,623.6 L1553.8,625.2 L1557.5,626.8 L1561.2,628.5 L1564.9,630.1 L1568.6,631.8 L1572.2,633.5 L1575.9,635.2 L1579.6,637.0 L1583.2,638.8 L1586.8,640.6 L1590.4,642.4 L1594.0,644.3 L1597.6,646.2 L1601.1,648.1 L1604.7,650.0 L1608.2,652.0 L1611.7,654.0 L1615.2,656.0 L1618.6,658.1 L1622.1,660.1 L1625.5,662.2 L1628.9,664.4 L1632.2,666.5 L1635.5,668.7 L1638.9,671.0 L1642.1,673.2 L1645.4,675.5 L1648.6,677.8 L1651.8,680.2 L1655.0,682.6 L1658.1,685.0 L1661.2,687.4 L1664.3,689.9 L1667.3,692.4 L1670.3,695.0 L1673.3,697.5 L1676.2,700.2 L1679.1,702.8 L1681.9,705.5 L1684.8,708.2 L1687.5,711.0 L1690.3,713.8 L1693.0,716.6 L1695.6,719.4 L1698.2,722.3 L1700.8,725.3 L1703.3,728.3 L1705.8,731.3 L1708.2,734.3 L1710.6,737.4 L1712.9,740.5 L1715.2,743.7 L1717.5,746.9 L1719.7,750.2 L1721.8,753.4 L1723.9,756.8 L1725.9,760.1 L1727.9,763.5 L1729.8,767.0 L1731.7,770.5 L1733.6,774.0 L1735.3,777.6 L1737.1,781.2 L1738.8,784.8 L1740.4,788.5 L1742.0,792.2 L1743.5,795.9 L1745.0,799.6 L1746.5,803.4 L1747.9,807.2 L1749.3,811.0 L1750.7,814.9 L1752.0,818.7 L1753.3,822.6 L1754.5,826.5 L1755.7,830.4 L1756.9,834.3 L1758.0,838.3 L1759.1,842.2 L1760.2,846.2 L1761.2,850.2 L1762.3,854.1 L1763.3,858.1 L1764.2,862.1 L1765.2,866.1 L1766.1,870.1 L1767.0,874.1 L1767.9,878.1 L1768.7,882.1 L1769.6,886.0 L1770.4,890.0 L1771.2,894.0 L1772.0,897.9 L1772.8,901.9 L1773.5,905.8 L1774.3,909.7 L1775.0,913.6 L1775.7,917.5 L1776.4,921.4 L1777.2,925.3 L1777.9,929.1 L1778.6,932.9 L1779.2,936.7 L1779.9,940.4 L1780.6,944.2 L1781.3,947.9 L1782.0,951.6 L1782.7,955.2" fill="none" stroke="#dc1c2e" stroke-width="6" stroke-linejoin="round" stroke-linecap="round"/>
<rect x="734.5" y="850.5" width="781.5" height="336" fill="none" stroke="#333" stroke-width="5.5"/>
<text transform="translate(772.6 934.8) scale(1.0692 1)" x="0" y="0" font-family="'Liberation Sans', Arial, Helvetica, sans-serif" font-size="76" word-spacing="-6" fill="#2d4a9c">0.5 h (<tspan font-style="italic">d</tspan><tspan font-size="35.0" font-weight="bold" dy="13.7">(Ti,Mo)C</tspan><tspan dy="-13.7">=3.9 nm)</tspan></text>
<text transform="translate(770.8 1007.0) scale(1.0715 1)" x="0" y="0" font-family="'Liberation Sans', Arial, Helvetica, sans-serif" font-size="76" word-spacing="-6" fill="#2e9346">3 h (<tspan font-style="italic">d</tspan><tspan font-size="35.0" font-weight="bold" dy="13.7">(Ti,Mo)C</tspan><tspan dy="-13.7">=3.9 nm)</tspan></text>
<text transform="translate(770.4 1080.8) scale(1.0681 1)" x="0" y="0" font-family="'Liberation Sans', Arial, Helvetica, sans-serif" font-size="76" word-spacing="-6" fill="#f08530">10 h (<tspan font-style="italic">d</tspan><tspan font-size="35.0" font-weight="bold" dy="13.7">(Ti,Mo)C</tspan><tspan dy="-13.7">=6.9 nm)</tspan></text>
<text transform="translate(771.9 1155.0) scale(1.0649 1)" x="0" y="0" font-family="'Liberation Sans', Arial, Helvetica, sans-serif" font-size="76" word-spacing="-6" fill="#d92332">48 h (<tspan font-style="italic">d</tspan><tspan font-size="35.0" font-weight="bold" dy="13.7">(Ti,Mo)C</tspan><tspan dy="-13.7">=10 nm)</tspan></text>
<rect x="512.5" y="1601.5" width="1651.0" height="1223.5" fill="none" stroke="#1e1e1e" stroke-width="5"/>
<path d="M490,2825.0H512.5 M500,2730.8H512.5 M490,2636.7H512.5 M500,2542.5H512.5 M490,2448.3H512.5 M500,2354.1H512.5 M490,2259.9H512.5 M500,2165.8H512.5 M490,2071.6H512.5 M500,1977.4H512.5 M490,1883.2H512.5 M500,1789.1H512.5 M490,1694.9H512.5 M500,1601.5H512.5 M513.0,2825.0V2852 M678.0,2825.0V2840 M842.9,2825.0V2852 M1007.9,2825.0V2840 M1172.8,2825.0V2852 M1337.8,2825.0V2840 M1502.7,2825.0V2852 M1667.7,2825.0V2840 M1832.6,2825.0V2852 M1997.6,2825.0V2840 M2162.5,2825.0V2852" stroke="#1e1e1e" stroke-width="4.5" fill="none"/>
<text x="343.3" y="1707.9" font-family="Carlito, 'Liberation Sans', sans-serif" font-weight="bold" font-style="normal" font-size="64.93" fill="#000" textLength="134.2" lengthAdjust="spacingAndGlyphs" style="font-size-adjust:cap-height 0.6484">1200</text>
<text x="342.0" y="1900.2" font-family="Carlito, 'Liberation Sans', sans-serif" font-weight="bold" font-style="normal" font-size="66.12" fill="#000" textLength="134.5" lengthAdjust="spacingAndGlyphs" style="font-size-adjust:cap-height 0.6484">1000</text>
<text x="370.8" y="2088.9" font-family="Carlito, 'Liberation Sans', sans-serif" font-weight="bold" font-style="normal" font-size="63.86" fill="#000" textLength="102.1" lengthAdjust="spacingAndGlyphs" style="font-size-adjust:cap-height 0.6484">800</text>
<text x="373.9" y="2277.2" font-family="Carlito, 'Liberation Sans', sans-serif" font-weight="bold" font-style="normal" font-size="62.61" fill="#000" textLength="101.5" lengthAdjust="spacingAndGlyphs" style="font-size-adjust:cap-height 0.6484">600</text>
<text x="371.5" y="2467.0" font-family="Carlito, 'Liberation Sans', sans-serif" font-weight="bold" font-style="normal" font-size="64.48" fill="#000" textLength="100.8" lengthAdjust="spacingAndGlyphs" style="font-size-adjust:cap-height 0.6484">400</text>
<text x="364.6" y="2656.8" font-family="Carlito, 'Liberation Sans', sans-serif" font-weight="bold" font-style="normal" font-size="64.48" fill="#000" textLength="100.5" lengthAdjust="spacingAndGlyphs" style="font-size-adjust:cap-height 0.6484">200</text>
<text x="431.3" y="2834.8" font-family="Carlito, 'Liberation Sans', sans-serif" font-weight="bold" font-style="normal" font-size="61.79" fill="#000" textLength="33.1" lengthAdjust="spacingAndGlyphs" style="font-size-adjust:cap-height 0.6484">0</text>
<text x="491.3" y="2928.4" font-family="Carlito, 'Liberation Sans', sans-serif" font-weight="bold" font-style="normal" font-size="61.79" fill="#000" textLength="34.2" lengthAdjust="spacingAndGlyphs" style="font-size-adjust:cap-height 0.6484">0</text>
<text x="824.6" y="2928.4" font-family="Carlito, 'Liberation Sans', sans-serif" font-weight="bold" font-style="normal" font-size="62.73" fill="#000" textLength="34.4" lengthAdjust="spacingAndGlyphs" style="font-size-adjust:cap-height 0.6484">5</text>
<text x="1147.1" y="2930.4" font-family="Carlito, 'Liberation Sans', sans-serif" font-weight="bold" font-style="normal" font-size="65.23" fill="#000" textLength="69.5" lengthAdjust="spacingAndGlyphs" style="font-size-adjust:cap-height 0.6484">10</text>
<text x="1470.0" y="2929.8" font-family="Carlito, 'Liberation Sans', sans-serif" font-weight="bold" font-style="normal" font-size="64.24" fill="#000" textLength="71.3" lengthAdjust="spacingAndGlyphs" style="font-size-adjust:cap-height 0.6484">15</text>
<text x="1806.2" y="2930.4" font-family="Carlito, 'Liberation Sans', sans-serif" font-weight="bold" font-style="normal" font-size="64.24" fill="#000" textLength="66.9" lengthAdjust="spacingAndGlyphs" style="font-size-adjust:cap-height 0.6484">20</text>
<text x="2134.1" y="2929.8" font-family="Carlito, 'Liberation Sans', sans-serif" font-weight="bold" font-style="normal" font-size="63.28" fill="#000" textLength="68.0" lengthAdjust="spacingAndGlyphs" style="font-size-adjust:cap-height 0.6484">25</text>
<text x="1253.0" y="3025.3" font-family="Carlito, 'Liberation Sans', sans-serif" font-weight="bold" font-style="normal" font-size="64.31" fill="#000" textLength="267.8" lengthAdjust="spacingAndGlyphs" style="font-size-adjust:cap-height 0.6484">Strain (%)</text>
<text transform="translate(261.7 2395.2) rotate(-90)" x="0" y="0" font-family="Carlito, 'Liberation Sans', sans-serif" font-weight="bold" font-size="63.85" fill="#000" textLength="348.7" lengthAdjust="spacingAndGlyphs" style="font-size-adjust:cap-height 0.6484">Stress (MPa)</text>
<path d="M563.0,2427.9 L566.9,2426.8 L570.8,2425.7 L574.8,2424.6 L578.7,2423.5 L582.6,2422.5 L586.6,2421.4 L590.5,2420.4 L594.4,2419.4 L598.4,2418.3 L602.3,2417.3 L606.2,2416.3 L610.1,2415.3 L614.1,2414.3 L618.0,2413.4 L621.9,2412.4 L625.9,2411.4 L629.8,2410.5 L633.7,2409.5 L637.7,2408.6 L641.6,2407.7 L645.6,2406.7 L649.5,2405.8 L653.4,2404.9 L657.4,2404.0 L661.3,2403.1 L665.2,2402.2 L669.2,2401.4 L673.1,2400.5 L677.0,2399.6 L681.0,2398.8 L684.9,2397.9 L688.8,2397.1 L692.8,2396.3 L696.7,2395.5 L700.7,2394.6 L704.6,2393.8 L708.5,2393.0 L712.5,2392.2 L716.4,2391.5 L720.4,2390.7 L724.3,2389.9 L728.2,2389.1 L732.2,2388.4 L736.1,2387.6 L740.1,2386.9 L744.0,2386.2 L747.9,2385.4 L751.9,2384.7 L755.8,2384.0 L759.8,2383.3 L763.7,2382.6 L767.7,2381.9 L771.6,2381.2 L775.6,2380.6 L779.5,2379.9 L783.4,2379.2 L787.4,2378.6 L791.3,2377.9 L795.3,2377.3 L799.2,2376.6 L803.2,2376.0 L807.1,2375.4 L811.1,2374.8 L815.0,2374.1 L819.0,2373.5 L822.9,2372.9 L826.9,2372.3 L830.8,2371.8 L834.8,2371.2 L838.7,2370.6 L842.7,2370.0 L846.6,2369.5 L850.6,2368.9 L854.5,2368.4 L858.5,2367.8 L862.4,2367.3 L866.4,2366.8 L870.3,2366.2 L874.3,2365.7 L878.2,2365.2 L882.2,2364.7 L886.2,2364.2 L890.1,2363.7 L894.1,2363.2 L898.0,2362.7 L902.0,2362.3 L905.9,2361.8 L909.9,2361.3 L913.9,2360.9 L917.8,2360.4 L921.8,2359.9 L925.7,2359.5 L929.7,2359.1 L933.7,2358.6 L937.6,2358.2 L941.6,2357.8 L945.5,2357.4 L949.5,2356.9 L953.5,2356.5 L957.4,2356.1 L961.4,2355.7 L965.4,2355.3 L969.3,2354.9 L973.3,2354.6 L977.3,2354.2 L981.2,2353.8 L985.2,2353.4 L989.2,2353.1 L993.1,2352.7 L997.1,2352.4 L1001.1,2352.0 L1005.1,2351.7 L1009.0,2351.3 L1013.0,2351.0 L1017.0,2350.7 L1020.9,2350.3 L1024.9,2350.0 L1028.9,2349.7 L1032.9,2349.4 L1036.8,2349.1 L1040.8,2348.8 L1044.8,2348.5 L1048.8,2348.2 L1052.7,2347.9 L1056.7,2347.6 L1060.7,2347.3 L1064.7,2347.0 L1068.7,2346.8 L1072.6,2346.5 L1076.6,2346.2 L1080.6,2346.0 L1084.6,2345.7 L1088.6,2345.5 L1092.6,2345.2 L1096.5,2345.0 L1100.5,2344.7 L1104.5,2344.5 L1108.5,2344.2 L1112.5,2344.0 L1116.5,2343.8 L1120.5,2343.6 L1124.4,2343.3 L1128.4,2343.1 L1132.4,2342.9 L1136.4,2342.7 L1140.4,2342.5 L1144.4,2342.3 L1148.4,2342.1 L1152.4,2341.9 L1156.4,2341.7 L1160.4,2341.5 L1164.4,2341.3 L1168.4,2341.1 L1172.4,2340.9 L1176.4,2340.8 L1180.4,2340.6 L1184.4,2340.4 L1188.4,2340.3 L1192.4,2340.1 L1196.4,2339.9 L1200.4,2339.8 L1204.4,2339.6 L1208.4,2339.4 L1212.4,2339.3 L1216.4,2339.1 L1220.4,2339.0 L1224.4,2338.9 L1228.4,2338.7 L1232.4,2338.6 L1236.4,2338.4 L1240.4,2338.3 L1244.4,2338.2 L1248.4,2338.0 L1252.4,2337.9 L1256.5,2337.8 L1260.5,2337.7 L1264.5,2337.6 L1268.5,2337.4 L1272.5,2337.3 L1276.5,2337.2 L1280.5,2337.1 L1284.6,2337.0 L1288.6,2336.9 L1292.6,2336.8 L1296.6,2336.7 L1300.6,2336.6 L1304.7,2336.5 L1308.7,2336.4 L1312.7,2336.3 L1316.7,2336.2 L1320.7,2336.1 L1324.8,2336.0 L1328.8,2335.9 L1332.8,2335.8 L1336.8,2335.8 L1340.9,2335.7 L1344.9,2335.6 L1348.9,2335.5 L1353.0,2335.4 L1357.0,2335.4 L1361.0,2335.3 L1365.1,2335.2 L1369.1,2335.1 L1373.1,2335.1 L1377.2,2335.0 L1381.2,2334.9 L1385.2,2334.9 L1389.3,2334.8 L1393.3,2334.7 L1397.4,2334.7 L1401.4,2334.6 L1405.4,2334.5 L1409.5,2334.5 L1413.5,2334.4 L1417.6,2334.4 L1421.6,2334.3 L1425.6,2334.3 L1429.7,2334.2 L1433.7,2334.2 L1437.8,2334.1 L1441.8,2334.1 L1445.9,2334.1 L1449.9,2334.0 L1454.0,2334.0 L1458.0,2334.0 L1462.1,2334.0 L1466.1,2333.9 L1470.1,2333.9 L1474.2,2333.9 L1478.2,2333.9 L1482.3,2333.9 L1486.3,2333.9 L1490.4,2333.9 L1494.4,2333.9 L1498.5,2334.0 L1502.5,2334.0 L1506.6,2334.0 L1510.6,2334.1 L1514.6,2334.1 L1518.7,2334.1 L1522.7,2334.2 L1526.8,2334.2 L1530.8,2334.3 L1534.8,2334.4 L1538.9,2334.4 L1542.9,2334.5 L1547.0,2334.6 L1551.0,2334.7 L1555.0,2334.8 L1559.1,2334.9 L1563.1,2335.0 L1567.1,2335.1 L1571.2,2335.3 L1575.2,2335.4 L1579.2,2335.5 L1583.3,2335.7 L1587.3,2335.8 L1591.3,2336.0 L1595.4,2336.2 L1599.4,2336.4 L1603.4,2336.5 L1607.4,2336.7 L1611.4,2336.9 L1615.5,2337.2 L1619.5,2337.4 L1623.5,2337.6 L1627.5,2337.9 L1631.5,2338.1 L1635.5,2338.4 L1639.6,2338.6 L1643.6,2338.9 L1647.6,2339.2 L1651.6,2339.5 L1655.6,2339.8 L1659.6,2340.1 L1663.6,2340.4 L1667.6,2340.8 L1671.6,2341.1 L1675.6,2341.5 L1679.6,2341.8 L1683.5,2342.2 L1687.5,2342.6 L1691.5,2343.0 L1695.5,2343.4 L1699.5,2343.8 L1703.5,2344.3 L1707.4,2344.7 L1711.4,2345.2 L1715.4,2345.6 L1719.4,2346.1 L1723.3,2346.6 L1727.3,2347.1 L1731.2,2347.6 L1735.2,2348.2 L1739.2,2348.7 L1743.1,2349.2 L1747.1,2349.8 L1751.0,2350.4 L1755.0,2351.0 L1758.9,2351.6 L1762.8,2352.2 L1766.8,2352.8 L1770.7,2353.5 L1774.6,2354.1 L1778.6,2354.8 L1782.5,2355.5 L1786.4,2356.2 L1790.3,2356.9 L1794.2,2357.6 L1798.2,2358.4 L1802.1,2359.1 L1806.0,2359.9 L1809.9,2360.7 L1813.8,2361.5 L1817.7,2362.3 L1821.6,2363.2 L1825.4,2364.0 L1829.3,2364.9 L1833.2,2365.8 L1837.1,2366.7 L1840.9,2367.6 L1844.8,2368.5 L1848.7,2369.5 L1852.5,2370.4 L1856.4,2371.4 L1860.2,2372.4 L1864.0,2373.4 L1867.9,2374.5 L1871.7,2375.5 L1875.5,2376.6 L1879.3,2377.7 L1883.1,2378.8 L1886.9,2379.9 L1890.7,2381.1 L1894.5,2382.3 L1898.3,2383.5 L1902.0,2384.7 L1905.8,2385.9 L1909.6,2387.2 L1913.3,2388.4 L1917.0,2389.7 L1920.8,2391.1 L1924.5,2392.4 L1928.2,2393.8 L1931.9,2395.1 L1935.6,2396.6 L1939.3,2398.0 L1943.0,2399.4 L1946.6,2400.9 L1950.3,2402.4 L1953.9,2403.9 L1957.6,2405.5 L1961.2,2407.1 L1964.8,2408.7 L1968.4,2410.3 L1972.0,2411.9 L1975.6,2413.6 L1979.2,2415.3 L1982.7,2417.0 L1986.3,2418.8 L1989.8,2420.6 L1993.4,2422.4 L1996.9,2424.2 L2000.4,2426.0 L2003.9,2427.9 L2007.3,2429.8 L2010.8,2431.8 L2014.3,2433.7 L2017.7,2435.7 L2021.1,2437.7 L2024.5,2439.8 L2027.9,2441.9 L2031.3,2444.0 L2034.7,2446.1 L2038.1,2448.3 L2041.4,2450.5 L2044.7,2452.7 L2048.1,2455.0 L2051.4,2457.2 L2054.7,2459.6 L2057.9,2461.9 L2061.2,2464.3 L2064.4,2466.7 L2067.7,2469.1 L2070.9,2471.6 L2074.1,2474.1 L2077.2,2476.6 L2080.4,2479.2 L2083.6,2481.8 L2086.7,2484.4 L2089.8,2487.1 L2092.9,2489.8 L2096.0,2492.5 L2099.0,2495.3 L2102.1,2498.1 L2105.1,2501.0 L2108.1,2503.8 L2111.1,2506.7 L2114.1,2509.7 L2117.1,2512.6 L2120.0,2515.7 L2122.9,2518.7 L2125.8,2521.8 L2128.7,2524.9 L2131.6,2528.1" fill="none" stroke="#1e9fc8" stroke-width="11" stroke-linecap="round" stroke-dasharray="0.01 21.954"/>
<path d="M514.4,2825.9 L514.7,2822.0 L515.1,2818.0 L515.4,2814.0 L515.8,2810.0 L516.2,2806.0 L516.5,2802.0 L516.9,2798.0 L517.3,2794.0 L517.6,2790.1 L518.0,2786.1 L518.4,2782.1 L518.8,2778.1 L519.2,2774.1 L519.5,2770.1 L519.9,2766.1 L520.3,2762.1 L520.7,2758.1 L521.1,2754.1 L521.5,2750.1 L521.9,2746.2 L522.3,2742.2 L522.7,2738.2 L523.1,2734.2 L523.5,2730.2 L523.9,2726.2 L524.3,2722.2 L524.7,2718.2 L525.1,2714.2 L525.5,2710.2 L525.9,2706.2 L526.3,2702.2 L526.7,2698.2 L527.1,2694.2 L527.5,2690.2 L528.0,2686.2 L528.4,2682.2 L528.8,2678.3 L529.2,2674.3 L529.6,2670.3 L530.0,2666.3 L530.5,2662.3 L530.9,2658.3 L531.3,2654.3 L531.7,2650.3 L532.1,2646.3 L532.6,2642.3 L533.0,2638.3 L533.4,2634.3 L533.8,2630.3 L534.2,2626.3 L534.7,2622.3 L535.1,2618.3 L535.5,2614.3 L535.9,2610.3 L536.4,2606.3 L536.8,2602.3 L537.2,2598.3 L537.6,2594.3 L538.1,2590.3 L538.5,2586.3 L538.9,2582.3 L539.3,2578.4 L539.8,2574.4 L540.2,2570.4 L540.6,2566.4 L541.0,2562.4 L541.5,2558.4 L541.9,2554.4 L542.3,2550.4 L542.7,2546.4 L543.2,2542.4 L543.6,2538.4 L544.0,2534.4 L544.4,2530.4 L544.8,2526.4 L545.3,2522.4 L545.7,2518.4 L546.1,2514.4 L546.5,2510.4 L546.9,2506.4 L547.4,2502.5 L547.8,2498.5 L548.2,2494.5 L548.6,2490.5 L549.0,2486.5 L549.4,2482.5 L549.8,2478.5 L550.2,2474.5 L550.6,2470.5 L551.1,2466.5 L551.5,2462.5 L551.9,2458.6 L552.3,2454.6 L552.7,2450.6 L553.1,2446.6 L553.5,2442.6 L553.9,2438.6 L554.3,2434.6 L554.7,2430.6 L555.0,2426.6 L555.4,2422.7 L555.8,2418.7 L556.2,2414.7 L556.6,2410.7 L557.0,2406.7 L557.4,2402.7 L557.7,2398.7 L558.1,2394.8 L558.5,2390.8 L558.9,2386.8 L559.2,2382.8 L559.6,2378.8 L560.0,2374.9 L560.3,2370.9 L560.7,2366.9 L561.1,2362.9 L561.4,2358.9 L561.8,2354.9 L562.2,2351.0 L562.5,2347.0 L562.9,2343.0 L563.3,2339.0 L563.7,2335.0 L564.1,2331.0 L564.4,2327.0 L564.8,2323.0 L565.2,2319.0 L565.7,2315.0 L566.1,2311.0 L566.5,2307.0 L567.0,2303.0 L567.4,2299.0 L567.9,2295.0 L568.4,2290.9 L568.9,2286.9 L569.4,2282.9 L569.9,2278.8 L570.4,2274.8 L571.0,2270.7 L571.5,2266.7 L572.1,2262.6 L572.7,2258.5 L573.4,2254.5 L574.0,2250.4 L574.7,2246.3 L575.5,2242.3 L576.3,2238.3 L577.2,2234.3 L578.1,2230.4 L579.2,2226.5 L580.4,2222.7 L581.6,2219.0 L583.0,2215.3 L584.5,2211.7 L586.1,2208.2 L587.9,2204.8 L589.8,2201.5 L591.9,2198.3 L594.1,2195.2 L596.5,2192.2 L599.0,2189.4 L601.7,2186.6 L604.5,2184.0 L607.4,2181.5 L610.4,2179.2 L613.5,2176.9 L616.7,2174.8 L620.0,2172.8 L623.3,2170.9 L626.8,2169.2 L630.3,2167.5 L633.8,2166.0 L637.5,2164.5 L641.2,2163.2 L644.9,2162.0 L648.8,2160.8 L652.6,2159.7 L656.5,2158.8 L660.5,2157.9 L664.5,2157.0 L668.5,2156.3 L672.5,2155.6 L676.6,2154.9 L680.7,2154.3 L684.9,2153.8 L689.0,2153.3 L693.1,2152.8 L697.3,2152.4 L701.5,2152.0 L705.6,2151.7 L709.8,2151.4 L713.9,2151.0 L718.1,2150.7 L722.2,2150.5 L726.3,2150.2 L730.4,2149.9 L734.5,2149.6 L738.6,2149.3 L742.6,2149.1 L746.6,2148.8 L750.6,2148.5 L754.6,2148.3 L758.6,2148.0 L762.6,2147.7 L766.6,2147.5 L770.5,2147.2 L774.5,2146.9 L778.4,2146.6 L782.4,2146.4 L786.3,2146.1 L790.2,2145.8 L794.1,2145.6 L798.1,2145.3 L802.0,2145.0 L805.9,2144.7 L809.9,2144.4 L813.8,2144.1 L817.7,2143.9 L821.7,2143.6 L825.6,2143.3 L829.6,2143.0 L833.5,2142.7 L837.5,2142.4 L841.5,2142.1 L845.4,2141.8 L849.4,2141.5 L853.4,2141.2 L857.3,2140.9 L861.3,2140.6 L865.3,2140.3 L869.3,2139.9 L873.3,2139.6 L877.3,2139.3 L881.3,2139.0 L885.3,2138.7 L889.3,2138.4 L893.3,2138.2 L897.3,2137.9 L901.3,2137.6 L905.3,2137.3 L909.3,2137.0 L913.3,2136.7 L917.4,2136.5 L921.4,2136.2 L925.4,2135.9 L929.4,2135.7 L933.5,2135.4 L937.5,2135.2 L941.5,2134.9 L945.5,2134.7 L949.6,2134.4 L953.6,2134.2 L957.6,2134.0 L961.7,2133.8 L965.7,2133.6 L969.8,2133.4 L973.8,2133.2 L977.8,2133.0 L981.9,2132.8 L985.9,2132.7 L989.9,2132.5 L994.0,2132.4 L998.0,2132.2 L1002.1,2132.1 L1006.1,2132.0 L1010.1,2131.9 L1014.2,2131.8 L1018.2,2131.7 L1022.3,2131.6 L1026.3,2131.6 L1030.3,2131.5 L1034.4,2131.5 L1038.4,2131.5 L1042.4,2131.4 L1046.5,2131.4 L1050.5,2131.5 L1054.5,2131.5 L1058.6,2131.5 L1062.6,2131.6 L1066.6,2131.7 L1070.7,2131.7 L1074.7,2131.8 L1078.7,2131.9 L1082.7,2132.1 L1086.7,2132.2 L1090.8,2132.4 L1094.8,2132.6 L1098.8,2132.8 L1102.8,2133.0 L1106.8,2133.2 L1110.8,2133.4 L1114.8,2133.7 L1118.8,2134.0 L1122.8,2134.3 L1126.8,2134.6 L1130.8,2134.9 L1134.8,2135.3 L1138.8,2135.7 L1142.8,2136.1 L1146.7,2136.5 L1150.7,2136.9 L1154.7,2137.4 L1158.6,2137.9 L1162.6,2138.3 L1166.6,2138.9 L1170.5,2139.4 L1174.5,2140.0 L1178.4,2140.6 L1182.4,2141.2 L1186.3,2141.8 L1190.2,2142.4 L1194.2,2143.1 L1198.1,2143.8 L1202.0,2144.5 L1205.9,2145.3 L1209.8,2146.1 L1213.7,2146.9 L1217.6,2147.7 L1221.5,2148.5 L1225.4,2149.4 L1229.3,2150.3 L1233.2,2151.2 L1237.1,2152.2 L1240.9,2153.2 L1244.8,2154.2 L1248.7,2155.2 L1252.5,2156.3 L1256.4,2157.3 L1260.2,2158.5 L1264.0,2159.6 L1267.9,2160.8 L1271.7,2162.0 L1275.5,2163.2 L1279.3,2164.4 L1283.1,2165.7 L1286.9,2167.0 L1290.7,2168.4 L1294.4,2169.7 L1298.2,2171.1 L1301.9,2172.5 L1305.7,2174.0 L1309.4,2175.4 L1313.1,2176.9 L1316.9,2178.5 L1320.6,2180.0 L1324.3,2181.6 L1328.0,2183.2 L1331.6,2184.8 L1335.3,2186.5 L1339.0,2188.1 L1342.6,2189.8 L1346.2,2191.6 L1349.8,2193.3 L1353.5,2195.1 L1357.1,2196.9 L1360.6,2198.8 L1364.2,2200.6 L1367.8,2202.5 L1371.3,2204.4 L1374.8,2206.3 L1378.4,2208.3 L1381.9,2210.3 L1385.4,2212.3 L1388.8,2214.3 L1392.3,2216.4 L1395.7,2218.4 L1399.2,2220.6 L1402.6,2222.7 L1406.0,2224.8 L1409.4,2227.0 L1412.7,2229.2 L1416.1,2231.4 L1419.4,2233.7 L1422.8,2236.0 L1426.1,2238.3 L1429.3,2240.6 L1432.6,2242.9 L1435.9,2245.3 L1439.1,2247.7 L1442.3,2250.1 L1445.5,2252.5 L1448.7,2255.0 L1451.9,2257.5 L1455.0,2260.0 L1458.1,2262.5 L1461.2,2265.1 L1464.3,2267.6 L1467.4,2270.2 L1470.4,2272.8 L1473.4,2275.5 L1476.5,2278.1 L1479.4,2280.8 L1482.4,2283.5 L1485.3,2286.3 L1488.3,2289.0 L1491.2,2291.8 L1494.0,2294.6 L1496.9,2297.4 L1499.7,2300.2 L1502.5,2303.1 L1505.3,2306.0 L1508.1,2308.9 L1510.8,2311.8 L1513.5,2314.7 L1516.2,2317.7 L1518.9,2320.7 L1521.6,2323.7 L1524.2,2326.7 L1526.8,2329.8 L1529.3,2332.8 L1531.9,2335.9 L1534.4,2339.0 L1536.9,2342.1 L1539.4,2345.3 L1541.8,2348.5 L1544.3,2351.6 L1546.6,2354.8 L1549.0,2358.1 L1551.4,2361.3 L1553.7,2364.6 L1556.0,2367.9" fill="none" stroke="#d40f36" stroke-width="11" stroke-linecap="round" stroke-dasharray="0.01 22.502"/>
<path d="M577.4,2292.5 L581.4,2291.7 L585.3,2291.0 L589.2,2290.3 L593.2,2289.6 L597.1,2288.9 L601.0,2288.2 L605.0,2287.4 L608.9,2286.7 L612.9,2286.0 L616.8,2285.3 L620.8,2284.6 L624.7,2283.9 L628.6,2283.3 L632.6,2282.6 L636.5,2281.9 L640.5,2281.2 L644.4,2280.5 L648.4,2279.8 L652.3,2279.1 L656.3,2278.4 L660.2,2277.8 L664.2,2277.1 L668.1,2276.4 L672.1,2275.7 L676.0,2275.0 L680.0,2274.4 L683.9,2273.7 L687.9,2273.0 L691.8,2272.3 L695.8,2271.6 L699.7,2271.0 L703.7,2270.3 L707.6,2269.6 L711.6,2268.9 L715.5,2268.2 L719.5,2267.6 L723.4,2266.9 L727.4,2266.2 L731.3,2265.5 L735.3,2264.8 L739.2,2264.1 L743.2,2263.4 L747.1,2262.7 L751.1,2262.0 L755.0,2261.3 L759.0,2260.6 L763.0,2259.9 L766.9,2259.2 L770.9,2258.5 L774.8,2257.8 L778.8,2257.1 L782.7,2256.4 L786.7,2255.7 L790.6,2255.0 L794.6,2254.3 L798.6,2253.6 L802.5,2252.9 L806.5,2252.2 L810.4,2251.5 L814.4,2250.8 L818.3,2250.1 L822.3,2249.5 L826.3,2248.8 L830.2,2248.1 L834.2,2247.4 L838.1,2246.8 L842.1,2246.1 L846.1,2245.4 L850.0,2244.8 L854.0,2244.1 L858.0,2243.5 L861.9,2242.8 L865.9,2242.2 L869.9,2241.6 L873.8,2240.9 L877.8,2240.3 L881.8,2239.7 L885.8,2239.1 L889.7,2238.5 L893.7,2237.9 L897.7,2237.4 L901.7,2236.8 L905.6,2236.2 L909.6,2235.7 L913.6,2235.1 L917.6,2234.6 L921.5,2234.1 L925.5,2233.5 L929.5,2233.0 L933.5,2232.5 L937.5,2232.0 L941.5,2231.5 L945.5,2231.1 L949.4,2230.6 L953.4,2230.1 L957.4,2229.7 L961.4,2229.2 L965.4,2228.8 L969.4,2228.3 L973.4,2227.9 L977.4,2227.5 L981.4,2227.1 L985.4,2226.7 L989.4,2226.3 L993.4,2225.9 L997.4,2225.5 L1001.4,2225.1 L1005.4,2224.7 L1009.4,2224.4 L1013.4,2224.0 L1017.4,2223.7 L1021.4,2223.3 L1025.4,2223.0 L1029.4,2222.6 L1033.4,2222.3 L1037.4,2222.0 L1041.4,2221.7 L1045.4,2221.4 L1049.4,2221.1 L1053.4,2220.8 L1057.5,2220.5 L1061.5,2220.2 L1065.5,2219.9 L1069.5,2219.7 L1073.5,2219.4 L1077.5,2219.1 L1081.5,2218.9 L1085.5,2218.6 L1089.5,2218.4 L1093.6,2218.2 L1097.6,2217.9 L1101.6,2217.7 L1105.6,2217.5 L1109.6,2217.3 L1113.6,2217.1 L1117.7,2216.9 L1121.7,2216.7 L1125.7,2216.5 L1129.7,2216.3 L1133.7,2216.1 L1137.7,2215.9 L1141.8,2215.8 L1145.8,2215.6 L1149.8,2215.4 L1153.8,2215.3 L1157.8,2215.1 L1161.9,2215.0 L1165.9,2214.8 L1169.9,2214.7 L1173.9,2214.6 L1177.9,2214.4 L1182.0,2214.3 L1186.0,2214.2 L1190.0,2214.1 L1194.0,2214.0 L1198.1,2213.9 L1202.1,2213.7 L1206.1,2213.6 L1210.1,2213.6 L1214.1,2213.5 L1218.2,2213.4 L1222.2,2213.3 L1226.2,2213.2 L1230.2,2213.1 L1234.3,2213.1 L1238.3,2213.0 L1242.3,2212.9 L1246.3,2212.9 L1250.3,2212.8 L1254.4,2212.7 L1258.4,2212.7 L1262.4,2212.6 L1266.4,2212.6 L1270.5,2212.6 L1274.5,2212.5 L1278.5,2212.5 L1282.5,2212.5 L1286.5,2212.4 L1290.6,2212.4 L1294.6,2212.4 L1298.6,2212.4 L1302.6,2212.4 L1306.7,2212.4 L1310.7,2212.4 L1314.7,2212.4 L1318.7,2212.4 L1322.7,2212.4 L1326.8,2212.4 L1330.8,2212.5 L1334.8,2212.5 L1338.8,2212.6 L1342.8,2212.6 L1346.8,2212.7 L1350.9,2212.8 L1354.9,2212.9 L1358.9,2213.0 L1362.9,2213.1 L1366.9,2213.2 L1370.9,2213.3 L1374.9,2213.4 L1379.0,2213.6 L1383.0,2213.7 L1387.0,2213.9 L1391.0,2214.1 L1395.0,2214.3 L1399.0,2214.5 L1403.0,2214.7 L1407.0,2214.9 L1411.0,2215.2 L1415.0,2215.4 L1419.0,2215.7 L1423.0,2216.0 L1427.0,2216.3 L1431.0,2216.6 L1435.0,2216.9 L1439.0,2217.2 L1443.0,2217.6 L1447.0,2218.0 L1451.0,2218.3 L1455.0,2218.7 L1459.0,2219.2 L1463.0,2219.6 L1467.0,2220.0 L1471.0,2220.5 L1475.0,2221.0 L1479.0,2221.5 L1483.0,2222.0 L1487.0,2222.5 L1490.9,2223.1 L1494.9,2223.7 L1498.9,2224.3 L1502.9,2224.9 L1506.8,2225.5 L1510.8,2226.1 L1514.8,2226.8 L1518.7,2227.5 L1522.7,2228.2 L1526.7,2228.9 L1530.6,2229.7 L1534.6,2230.4 L1538.5,2231.2 L1542.5,2232.0 L1546.4,2232.8 L1550.3,2233.7 L1554.3,2234.5 L1558.2,2235.4 L1562.1,2236.3 L1566.0,2237.2 L1569.9,2238.2 L1573.8,2239.2 L1577.7,2240.1 L1581.6,2241.2 L1585.5,2242.2 L1589.4,2243.2 L1593.2,2244.3 L1597.1,2245.4 L1601.0,2246.5 L1604.8,2247.7 L1608.7,2248.9 L1612.5,2250.0 L1616.4,2251.3 L1620.2,2252.5 L1624.0,2253.8 L1627.8,2255.0 L1631.6,2256.3 L1635.4,2257.7 L1639.2,2259.0 L1643.0,2260.4 L1646.7,2261.8 L1650.5,2263.2 L1654.2,2264.7 L1658.0,2266.2 L1661.7,2267.7 L1665.4,2269.2 L1669.2,2270.8 L1672.9,2272.3 L1676.5,2273.9 L1680.2,2275.6 L1683.9,2277.2 L1687.6,2278.9 L1691.2,2280.6 L1694.8,2282.3 L1698.4,2284.1 L1702.0,2285.8 L1705.6,2287.6 L1709.2,2289.5 L1712.8,2291.3 L1716.3,2293.2 L1719.9,2295.1 L1723.4,2297.0 L1726.9,2299.0 L1730.4,2300.9 L1733.9,2302.9 L1737.3,2305.0 L1740.8,2307.0 L1744.2,2309.1 L1747.6,2311.2 L1751.0,2313.4 L1754.4,2315.5 L1757.7,2317.7 L1761.1,2319.9 L1764.4,2322.1 L1767.7,2324.4 L1771.0,2326.7 L1774.2,2329.0 L1777.5,2331.4 L1780.7,2333.7 L1783.9,2336.1 L1787.1,2338.5 L1790.3,2341.0 L1793.4,2343.5 L1796.5,2346.0 L1799.6,2348.5 L1802.7,2351.0 L1805.8,2353.6 L1808.8,2356.2 L1811.8,2358.9 L1814.8,2361.5 L1817.8,2364.2 L1820.7,2366.9 L1823.6,2369.7 L1826.5,2372.4 L1829.4,2375.2 L1832.2,2378.1 L1835.1,2380.9 L1837.9,2383.8 L1840.6,2386.7 L1843.4,2389.6 L1846.1,2392.6 L1848.8,2395.6 L1851.5,2398.6 L1854.1,2401.6 L1856.7,2404.7 L1859.3,2407.8 L1861.9,2410.9 L1864.4,2414.1 L1866.9,2417.3 L1869.3,2420.5 L1871.8,2423.7 L1874.2,2427.0 L1876.6,2430.3 L1878.9,2433.6 L1881.3,2437.0 L1883.6,2440.4 L1885.8,2443.8 L1888.0,2447.2 L1890.2,2450.7 L1892.4,2454.2" fill="none" stroke="#08aeea" stroke-width="12" stroke-linecap="round" stroke-linejoin="round"/>
<path d="M513.3,2825.8 L513.8,2821.8 L514.3,2817.8 L514.7,2813.9 L515.2,2809.9 L515.6,2805.9 L516.1,2801.9 L516.6,2798.0 L517.0,2794.0 L517.5,2790.0 L517.9,2786.0 L518.4,2782.1 L518.8,2778.1 L519.2,2774.1 L519.7,2770.1 L520.1,2766.1 L520.6,2762.2 L521.0,2758.2 L521.4,2754.2 L521.9,2750.2 L522.3,2746.2 L522.7,2742.3 L523.1,2738.3 L523.6,2734.3 L524.0,2730.3 L524.4,2726.3 L524.8,2722.3 L525.3,2718.4 L525.7,2714.4 L526.1,2710.4 L526.5,2706.4 L526.9,2702.4 L527.4,2698.4 L527.8,2694.4 L528.2,2690.5 L528.6,2686.5 L529.0,2682.5 L529.4,2678.5 L529.8,2674.5 L530.2,2670.5 L530.6,2666.5 L531.1,2662.5 L531.5,2658.5 L531.9,2654.5 L532.3,2650.6 L532.7,2646.6 L533.1,2642.6 L533.5,2638.6 L533.9,2634.6 L534.3,2630.6 L534.7,2626.6 L535.1,2622.6 L535.5,2618.6 L535.9,2614.6 L536.3,2610.6 L536.7,2606.6 L537.1,2602.6 L537.4,2598.6 L537.8,2594.6 L538.2,2590.6 L538.6,2586.7 L539.0,2582.7 L539.4,2578.7 L539.8,2574.7 L540.2,2570.7 L540.6,2566.7 L541.0,2562.7 L541.4,2558.7 L541.8,2554.7 L542.2,2550.7 L542.5,2546.7 L542.9,2542.7 L543.3,2538.7 L543.7,2534.7 L544.1,2530.7 L544.5,2526.7 L544.9,2522.7 L545.3,2518.7 L545.7,2514.7 L546.1,2510.7 L546.4,2506.7 L546.8,2502.7 L547.2,2498.7 L547.6,2494.7 L548.0,2490.7 L548.4,2486.7 L548.8,2482.7 L549.2,2478.7 L549.6,2474.7 L550.0,2470.7 L550.4,2466.7 L550.7,2462.7 L551.1,2458.7 L551.5,2454.7 L551.9,2450.8 L552.3,2446.8 L552.7,2442.8 L553.1,2438.8 L553.5,2434.8 L553.9,2430.8 L554.3,2426.8 L554.7,2422.8 L555.1,2418.8 L555.5,2414.8 L555.9,2410.8 L556.3,2406.8 L556.7,2402.8 L557.1,2398.8 L557.5,2394.8 L557.9,2390.8 L558.3,2386.8 L558.7,2382.8 L559.1,2378.8 L559.5,2374.8 L559.9,2370.9 L560.4,2366.9 L560.8,2362.9 L561.2,2358.9 L561.6,2354.9 L562.0,2350.9 L562.4,2346.9 L562.8,2342.9 L563.3,2338.9 L563.7,2334.9 L564.1,2330.9 L564.5,2327.0 L564.9,2323.0 L565.4,2319.0 L565.8,2315.0 L566.2,2311.0 L566.6,2307.0 L567.1,2303.0 L567.5,2299.0 L567.9,2295.1 L568.4,2291.1 L568.8,2287.1 L569.2,2283.1 L569.7,2279.1 L570.1,2275.1 L570.6,2271.1 L571.0,2267.2 L571.4,2263.2 L571.9,2259.2 L572.3,2255.2 L572.8,2251.2 L573.2,2247.3 L573.7,2243.3 L574.1,2239.3 L574.6,2235.3 L575.1,2231.3 L575.5,2227.4 L576.0,2223.4 L576.4,2219.4 L576.9,2215.4 L577.4,2211.4 L577.8,2207.5 L578.3,2203.5 L578.8,2199.5 L579.2,2195.5 L579.7,2191.6 L580.2,2187.6 L580.6,2183.6 L581.1,2179.6 L581.6,2175.7 L582.1,2171.7 L582.5,2167.7 L583.0,2163.7 L583.5,2159.8 L584.0,2155.8 L584.5,2151.8 L585.0,2147.8 L585.4,2143.9 L585.9,2139.9 L586.4,2135.9 L586.9,2131.9 L587.4,2128.0 L587.9,2124.0 L588.4,2120.0 L588.9,2116.1 L589.4,2112.1 L589.9,2108.1 L590.4,2104.1 L590.9,2100.2 L591.4,2096.2 L591.9,2092.2 L592.4,2088.2 L592.9,2084.3 L593.4,2080.3 L593.9,2076.3 L594.4,2072.4 L594.9,2068.4 L595.4,2064.4 L595.9,2060.4 L596.4,2056.5 L596.9,2052.5 L597.5,2048.5 L598.0,2044.5 L598.5,2040.6 L599.0,2036.6 L599.5,2032.6 L600.0,2028.6 L600.6,2024.7 L601.1,2020.7 L601.6,2016.7 L602.1,2012.7 L602.7,2008.8 L603.2,2004.8 L603.7,2000.8 L604.2,1996.8 L604.8,1992.9 L605.3,1988.9 L605.8,1984.9 L606.3,1980.9 L606.9,1977.0 L607.4,1973.0 L607.9,1969.0 L608.5,1965.0 L609.0,1961.0 L609.5,1957.1 L610.1,1953.1 L610.6,1949.1 L611.1,1945.1 L611.7,1941.2 L612.2,1937.2 L612.8,1933.2 L613.3,1929.2 L613.8,1925.2 L614.4,1921.2 L614.9,1917.3 L615.5,1913.3 L616.0,1909.3 L616.6,1905.3 L617.1,1901.3 L617.6,1897.3 L618.2,1893.4 L618.7,1889.4 L619.3,1885.4 L619.8,1881.4 L620.4,1877.4 L620.9,1873.4 L621.5,1869.4 L622.0,1865.4 L622.6,1861.5 L623.1,1857.5 L623.7,1853.5 L624.2,1849.5 L624.8,1845.5 L625.4,1841.5 L625.9,1837.5 L626.5,1833.5 L627.0,1829.5 L627.6,1825.5 L628.1,1821.5 L628.7,1817.5 L629.2,1813.5 L629.8,1809.5 L630.4,1805.5 L630.9,1801.5 L631.5,1797.5 L632.0,1793.5 L632.6,1789.5 L633.2,1785.5 L633.7,1781.5 L634.3,1777.5 L634.9,1773.5 L635.4,1769.5 L636.0,1765.5 L636.5,1761.5 L637.1,1757.5 L637.7,1753.5 L638.3,1749.5 L638.9,1745.5 L639.5,1741.5 L640.1,1737.6 L640.8,1733.6 L641.5,1729.7 L642.3,1725.7 L643.1,1721.8 L643.9,1718.0 L644.8,1714.1 L645.8,1710.3 L646.8,1706.5 L647.9,1702.7 L649.1,1699.0 L650.3,1695.3 L651.6,1691.7 L653.0,1688.1 L654.5,1684.5 L656.1,1681.0 L657.8,1677.5 L659.6,1674.1 L661.5,1670.7 L663.5,1667.4 L665.6,1664.2 L667.9,1661.0 L670.3,1658.1 L673.0,1655.3 L675.9,1652.9 L679.0,1650.8 L682.4,1649.1 L686.1,1647.9 L690.1,1647.0 L694.1,1646.4 L698.3,1646.0 L702.4,1645.6 L706.5,1645.3 L710.6,1645.1 L714.7,1644.9 L718.8,1644.8 L722.9,1644.8 L726.9,1644.8 L731.0,1644.8 L735.1,1644.9 L739.2,1645.0 L743.2,1645.1 L747.3,1645.3 L751.3,1645.4 L755.4,1645.6 L759.4,1645.7 L763.5,1645.8 L767.5,1646.0 L771.6,1646.1 L775.6,1646.2 L779.6,1646.3 L783.7,1646.4 L787.7,1646.5 L791.7,1646.5 L795.8,1646.6 L799.8,1646.7 L803.8,1646.7 L807.8,1646.8 L811.8,1646.8 L815.8,1646.8 L819.8,1646.8 L823.8,1646.9 L827.9,1646.9 L831.9,1646.9 L835.9,1646.9 L839.9,1646.9 L843.9,1646.9 L847.9,1646.9 L851.9,1646.9 L855.9,1646.8 L859.8,1646.8 L863.8,1646.8 L867.8,1646.8 L871.8,1646.8 L875.8,1646.7 L879.8,1646.7 L883.8,1646.7 L887.8,1646.6 L891.8,1646.6 L895.8,1646.6 L899.8,1646.5 L903.8,1646.5 L907.7,1646.5 L911.7,1646.4 L915.7,1646.4 L919.7,1646.4 L923.7,1646.4 L927.7,1646.3 L931.7,1646.3 L935.7,1646.3 L939.7,1646.3 L943.7,1646.3 L947.7,1646.2 L951.7,1646.2 L955.7,1646.2 L959.7,1646.2 L963.7,1646.2 L967.7,1646.3 L971.7,1646.3 L975.7,1646.3 L979.7,1646.3 L983.7,1646.4 L987.7,1646.4 L991.7,1646.5 L995.8,1646.5 L999.8,1646.6 L1003.8,1646.7 L1007.8,1646.7 L1011.9,1646.8 L1015.9,1646.9 L1019.9,1647.0 L1024.0,1647.1 L1028.0,1647.3 L1032.0,1647.4 L1036.1,1647.6 L1040.1,1647.7 L1044.2,1647.9 L1048.2,1648.1 L1052.3,1648.3 L1056.3,1648.5 L1060.3,1648.7 L1064.4,1649.0 L1068.4,1649.2 L1072.5,1649.5 L1076.5,1649.8 L1080.5,1650.1 L1084.6,1650.5 L1088.6,1650.8 L1092.6,1651.2 L1096.6,1651.6 L1100.6,1652.1 L1104.6,1652.5 L1108.6,1653.0 L1112.6,1653.5 L1116.6,1654.0 L1120.6,1654.6 L1124.6,1655.2 L1128.5,1655.8 L1132.5,1656.4 L1136.4,1657.1 L1140.4,1657.8 L1144.3,1658.5 L1148.2,1659.3 L1152.1,1660.1 L1156.0,1660.9 L1159.9,1661.7 L1163.8,1662.6 L1167.6,1663.6 L1171.5,1664.5 L1175.3,1665.5 L1179.1,1666.6 L1182.9,1667.6 L1186.7,1668.8 L1190.5,1669.9 L1194.2,1671.1 L1198.0,1672.3 L1201.7,1673.6 L1205.4,1674.9 L1209.1,1676.3 L1212.8,1677.7 L1216.5,1679.1 L1220.1,1680.6 L1223.7,1682.2 L1227.3,1683.8 L1230.9,1685.4 L1234.5,1687.1 L1238.0,1688.8 L1241.5,1690.6 L1245.0,1692.4 L1248.5,1694.3 L1252.0,1696.2 L1255.4,1698.2 L1258.8,1700.3 L1262.2,1702.4 L1265.6,1704.5 L1268.9,1706.7 L1272.2,1709.0 L1275.5,1711.3 L1278.8,1713.6 L1282.1,1716.0 L1285.3,1718.5 L1288.5,1721.0 L1291.7,1723.5 L1294.8,1726.1 L1297.9,1728.7 L1301.0,1731.4 L1304.1,1734.0 L1307.2,1736.8 L1310.2,1739.5 L1313.2,1742.3 L1316.2,1745.2 L1319.1,1748.0 L1322.1,1750.9 L1325.0,1753.8 L1327.8,1756.7 L1330.7,1759.7 L1333.5,1762.6 L1336.4,1765.6 L1339.1,1768.6 L1341.9,1771.6 L1344.6,1774.7 L1347.4,1777.7 L1350.0,1780.8 L1352.7,1783.8 L1355.3,1786.9 L1358.0,1790.0 L1360.6,1793.1 L1363.1,1796.2 L1365.7,1799.3 L1368.2,1802.4 L1370.7,1805.4 L1373.1,1808.5 L1375.6,1811.6 L1378.0,1814.7 L1380.4,1817.9 L1382.8,1821.0 L1385.1,1824.1 L1387.4,1827.2 L1389.7,1830.4 L1392.0,1833.6 L1394.3,1836.8 L1396.5,1840.0 L1398.7,1843.2 L1400.8,1846.5 L1403.0,1849.7 L1405.1,1853.0 L1407.2,1856.4 L1409.3,1859.7 L1411.3,1863.1 L1413.4,1866.6 L1415.4,1870.0 L1417.4,1873.5 L1419.3,1877.0 L1421.2,1880.6 L1423.1,1884.2 L1425.0,1887.9 L1426.9,1891.6 L1428.7,1895.3 L1430.5,1899.1 L1432.3,1903.0 L1434.0,1906.9" fill="none" stroke="#f20a12" stroke-width="12.5" stroke-linecap="round" stroke-linejoin="round"/>
<path d="M1456,1640.7H1592" stroke="#f0141c" stroke-width="11" stroke-linecap="round"/>
<path d="M1456,1715.3H1593" stroke="#cc1838" stroke-width="10" stroke-linecap="round" stroke-dasharray="0.1 22.55"/>
<path d="M1456,1787H1592" stroke="#1aa8e2" stroke-width="11" stroke-linecap="round"/>
<path d="M1456,1861.6H1593" stroke="#1e9cc4" stroke-width="10" stroke-linecap="round" stroke-dasharray="0.1 22.55"/>
<text x="1605.6" y="1657.8" font-family="'Liberation Sans', Arial, Helvetica, sans-serif" font-weight="bold" font-style="normal" font-size="57.25" fill="#d41a24" textLength="526.3" lengthAdjust="spacingAndGlyphs">Fe-5Ni-1Al-3Mn, 2 h</text>
<text x="1605.6" y="1732.9" font-family="'Liberation Sans', Arial, Helvetica, sans-serif" font-weight="bold" font-style="normal" font-size="57.25" fill="#d41a24" textLength="527.6" lengthAdjust="spacingAndGlyphs">Fe-5Ni-1Al-3Mn, AQ</text>
<text x="1605.6" y="1805.0" font-family="'Liberation Sans', Arial, Helvetica, sans-serif" font-weight="bold" font-style="normal" font-size="56.52" fill="#22a3d8" textLength="394.5" lengthAdjust="spacingAndGlyphs">Fe-5Ni-1Al, 2 h</text>
<text x="1605.6" y="1880.1" font-family="'Liberation Sans', Arial, Helvetica, sans-serif" font-weight="bold" font-style="normal" font-size="57.25" fill="#22a3d8" textLength="395.8" lengthAdjust="spacingAndGlyphs">Fe-5Ni-1Al, AQ</text>
</svg></body></html>
